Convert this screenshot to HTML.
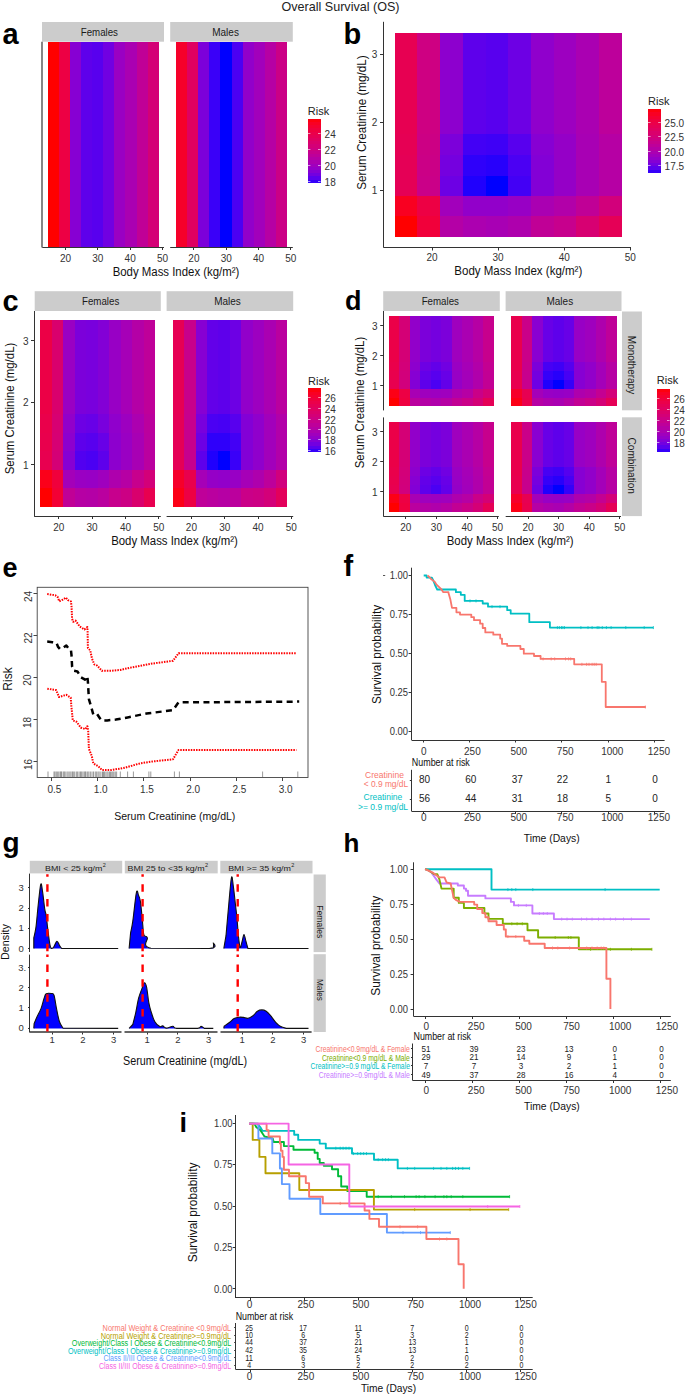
<!DOCTYPE html>
<html><head><meta charset="utf-8"><style>
html,body{margin:0;padding:0;background:#fff;}
svg{display:block;font-family:"Liberation Sans", sans-serif;}
</style></head><body>
<svg width="685" height="1396" viewBox="0 0 685 1396">
<rect width="685" height="1396" fill="#fff"/>
<text x="340.50" y="11.00" font-size="13" fill="#222" text-anchor="middle" textLength="118.00" lengthAdjust="spacingAndGlyphs">Overall Survival (OS)</text>
<text x="2.50" y="44.20" font-size="29" fill="#000" text-anchor="start" font-weight="bold">a</text>
<rect x="42.00" y="22.00" width="122.00" height="19.70" fill="#cccccc"/>
<text x="99.35" y="36.00" font-size="10" fill="#1a1a1a" text-anchor="middle" textLength="37.30" lengthAdjust="spacingAndGlyphs">Females</text>
<rect x="170.20" y="22.00" width="122.60" height="19.70" fill="#cccccc"/>
<text x="225.55" y="36.00" font-size="10" fill="#1a1a1a" text-anchor="middle">Males</text>
<rect x="47.60" y="41.70" width="11.120" height="204.90" fill="#ff0000" shape-rendering="crispEdges"/>
<rect x="58.72" y="41.70" width="11.120" height="204.90" fill="#ed0044" shape-rendering="crispEdges"/>
<rect x="69.84" y="41.70" width="11.120" height="204.90" fill="#8700d3" shape-rendering="crispEdges"/>
<rect x="80.96" y="41.70" width="11.120" height="204.90" fill="#5e00eb" shape-rendering="crispEdges"/>
<rect x="92.08" y="41.70" width="11.120" height="204.90" fill="#5800ee" shape-rendering="crispEdges"/>
<rect x="103.20" y="41.70" width="11.120" height="204.90" fill="#7100e2" shape-rendering="crispEdges"/>
<rect x="114.32" y="41.70" width="11.120" height="204.90" fill="#9a00c3" shape-rendering="crispEdges"/>
<rect x="125.44" y="41.70" width="11.120" height="204.90" fill="#aa00b2" shape-rendering="crispEdges"/>
<rect x="136.56" y="41.70" width="11.120" height="204.90" fill="#c00096" shape-rendering="crispEdges"/>
<rect x="147.68" y="41.70" width="11.120" height="204.90" fill="#d40076" shape-rendering="crispEdges"/>
<rect x="176.00" y="41.70" width="11.120" height="204.90" fill="#f6002a" shape-rendering="crispEdges"/>
<rect x="187.12" y="41.70" width="11.120" height="204.90" fill="#e00060" shape-rendering="crispEdges"/>
<rect x="198.24" y="41.70" width="11.120" height="204.90" fill="#7c00da" shape-rendering="crispEdges"/>
<rect x="209.36" y="41.70" width="11.120" height="204.90" fill="#3a00f8" shape-rendering="crispEdges"/>
<rect x="220.48" y="41.70" width="11.120" height="204.90" fill="#0000ff" shape-rendering="crispEdges"/>
<rect x="231.60" y="41.70" width="11.120" height="204.90" fill="#4b00f3" shape-rendering="crispEdges"/>
<rect x="242.72" y="41.70" width="11.120" height="204.90" fill="#9200ca" shape-rendering="crispEdges"/>
<rect x="253.84" y="41.70" width="11.120" height="204.90" fill="#a200bb" shape-rendering="crispEdges"/>
<rect x="264.96" y="41.70" width="11.120" height="204.90" fill="#b600a4" shape-rendering="crispEdges"/>
<rect x="276.08" y="41.70" width="11.120" height="204.90" fill="#cb0086" shape-rendering="crispEdges"/>
<line x1="42" y1="41.7" x2="42" y2="247.5" stroke="#222" stroke-width="1.1"/>
<line x1="42.30" y1="247.50" x2="164.00" y2="247.50" stroke="#333333" stroke-width="1.0"/>
<line x1="170.20" y1="247.50" x2="292.80" y2="247.50" stroke="#333333" stroke-width="1.0"/>
<line x1="65.50" y1="247.00" x2="65.50" y2="250.00" stroke="#333333" stroke-width="1.0"/>
<text x="65.50" y="261.70" font-size="10" fill="#333" text-anchor="middle">20</text>
<line x1="193.50" y1="247.00" x2="193.50" y2="250.00" stroke="#333333" stroke-width="1.0"/>
<text x="193.90" y="261.70" font-size="10" fill="#333" text-anchor="middle">20</text>
<line x1="97.50" y1="247.00" x2="97.50" y2="250.00" stroke="#333333" stroke-width="1.0"/>
<text x="97.83" y="261.70" font-size="10" fill="#333" text-anchor="middle">30</text>
<line x1="226.50" y1="247.00" x2="226.50" y2="250.00" stroke="#333333" stroke-width="1.0"/>
<text x="226.23" y="261.70" font-size="10" fill="#333" text-anchor="middle">30</text>
<line x1="130.50" y1="247.00" x2="130.50" y2="250.00" stroke="#333333" stroke-width="1.0"/>
<text x="130.16" y="261.70" font-size="10" fill="#333" text-anchor="middle">40</text>
<line x1="258.50" y1="247.00" x2="258.50" y2="250.00" stroke="#333333" stroke-width="1.0"/>
<text x="258.56" y="261.70" font-size="10" fill="#333" text-anchor="middle">40</text>
<line x1="162.50" y1="247.00" x2="162.50" y2="250.00" stroke="#333333" stroke-width="1.0"/>
<text x="162.49" y="261.70" font-size="10" fill="#333" text-anchor="middle">50</text>
<line x1="290.50" y1="247.00" x2="290.50" y2="250.00" stroke="#333333" stroke-width="1.0"/>
<text x="290.89" y="261.70" font-size="10" fill="#333" text-anchor="middle">50</text>
<text x="176.00" y="275.50" font-size="12" fill="#111" text-anchor="middle" textLength="126.70" lengthAdjust="spacingAndGlyphs">Body Mass Index (kg/m²)</text>
<text x="307.80" y="115.00" font-size="11" fill="#222" text-anchor="start">Risk</text>
<rect x="307.80" y="118.900" width="12.8" height="3.190" fill="#fd000f" shape-rendering="crispEdges"/>
<rect x="307.80" y="122.090" width="12.8" height="3.190" fill="#f90023" shape-rendering="crispEdges"/>
<rect x="307.80" y="125.280" width="12.8" height="3.190" fill="#f40031" shape-rendering="crispEdges"/>
<rect x="307.80" y="128.470" width="12.8" height="3.190" fill="#ef003e" shape-rendering="crispEdges"/>
<rect x="307.80" y="131.660" width="12.8" height="3.190" fill="#eb004a" shape-rendering="crispEdges"/>
<rect x="307.80" y="134.850" width="12.8" height="3.190" fill="#e50055" shape-rendering="crispEdges"/>
<rect x="307.80" y="138.040" width="12.8" height="3.190" fill="#e00061" shape-rendering="crispEdges"/>
<rect x="307.80" y="141.230" width="12.8" height="3.190" fill="#da006c" shape-rendering="crispEdges"/>
<rect x="307.80" y="144.420" width="12.8" height="3.190" fill="#d40077" shape-rendering="crispEdges"/>
<rect x="307.80" y="147.610" width="12.8" height="3.190" fill="#cd0083" shape-rendering="crispEdges"/>
<rect x="307.80" y="150.800" width="12.8" height="3.190" fill="#c6008e" shape-rendering="crispEdges"/>
<rect x="307.80" y="153.990" width="12.8" height="3.190" fill="#be009a" shape-rendering="crispEdges"/>
<rect x="307.80" y="157.180" width="12.8" height="3.190" fill="#b500a5" shape-rendering="crispEdges"/>
<rect x="307.80" y="160.370" width="12.8" height="3.190" fill="#ab00b1" shape-rendering="crispEdges"/>
<rect x="307.80" y="163.560" width="12.8" height="3.190" fill="#a000bd" shape-rendering="crispEdges"/>
<rect x="307.80" y="166.750" width="12.8" height="3.190" fill="#9400c8" shape-rendering="crispEdges"/>
<rect x="307.80" y="169.940" width="12.8" height="3.190" fill="#8500d4" shape-rendering="crispEdges"/>
<rect x="307.80" y="173.130" width="12.8" height="3.190" fill="#7300e0" shape-rendering="crispEdges"/>
<rect x="307.80" y="176.320" width="12.8" height="3.190" fill="#5b00ed" shape-rendering="crispEdges"/>
<rect x="307.80" y="179.510" width="12.8" height="3.190" fill="#3500f9" shape-rendering="crispEdges"/>
<line x1="307.80" y1="133.50" x2="310.40" y2="133.50" stroke="rgba(255,255,255,0.6)" stroke-width="1.0"/>
<line x1="318.00" y1="133.50" x2="320.60" y2="133.50" stroke="rgba(255,255,255,0.6)" stroke-width="1.0"/>
<text x="324.60" y="138.30" font-size="10" fill="#333" text-anchor="start">24</text>
<line x1="307.80" y1="149.50" x2="310.40" y2="149.50" stroke="rgba(255,255,255,0.6)" stroke-width="1.0"/>
<line x1="318.00" y1="149.50" x2="320.60" y2="149.50" stroke="rgba(255,255,255,0.6)" stroke-width="1.0"/>
<text x="324.60" y="154.40" font-size="10" fill="#333" text-anchor="start">22</text>
<line x1="307.80" y1="165.50" x2="310.40" y2="165.50" stroke="rgba(255,255,255,0.6)" stroke-width="1.0"/>
<line x1="318.00" y1="165.50" x2="320.60" y2="165.50" stroke="rgba(255,255,255,0.6)" stroke-width="1.0"/>
<text x="324.60" y="170.10" font-size="10" fill="#333" text-anchor="start">20</text>
<line x1="307.80" y1="181.50" x2="310.40" y2="181.50" stroke="rgba(255,255,255,0.6)" stroke-width="1.0"/>
<line x1="318.00" y1="181.50" x2="320.60" y2="181.50" stroke="rgba(255,255,255,0.6)" stroke-width="1.0"/>
<text x="324.60" y="186.20" font-size="10" fill="#333" text-anchor="start">18</text>
<text x="343.50" y="43.70" font-size="29" fill="#000" text-anchor="start" font-weight="bold">b</text>
<rect x="394.70" y="32.50" width="22.700" height="101.70" fill="#e70052" shape-rendering="crispEdges"/>
<rect x="417.40" y="32.50" width="22.700" height="101.70" fill="#ce0082" shape-rendering="crispEdges"/>
<rect x="440.10" y="32.50" width="22.700" height="101.70" fill="#8d00ce" shape-rendering="crispEdges"/>
<rect x="462.80" y="32.50" width="22.700" height="101.70" fill="#5e00eb" shape-rendering="crispEdges"/>
<rect x="485.50" y="32.50" width="22.700" height="101.70" fill="#5800ee" shape-rendering="crispEdges"/>
<rect x="508.20" y="32.50" width="22.700" height="101.70" fill="#6d00e4" shape-rendering="crispEdges"/>
<rect x="530.90" y="32.50" width="22.700" height="101.70" fill="#9000cc" shape-rendering="crispEdges"/>
<rect x="553.60" y="32.50" width="22.700" height="101.70" fill="#9d00c0" shape-rendering="crispEdges"/>
<rect x="576.30" y="32.50" width="22.700" height="101.70" fill="#aa00b2" shape-rendering="crispEdges"/>
<rect x="599.00" y="32.50" width="22.700" height="101.70" fill="#bd009b" shape-rendering="crispEdges"/>
<rect x="394.70" y="134.20" width="22.700" height="20.80" fill="#e60054" shape-rendering="crispEdges"/>
<rect x="417.40" y="134.20" width="22.700" height="20.80" fill="#cc0084" shape-rendering="crispEdges"/>
<rect x="440.10" y="134.20" width="22.700" height="20.80" fill="#7c00da" shape-rendering="crispEdges"/>
<rect x="462.80" y="134.20" width="22.700" height="20.80" fill="#4300f5" shape-rendering="crispEdges"/>
<rect x="485.50" y="134.20" width="22.700" height="20.80" fill="#3f00f6" shape-rendering="crispEdges"/>
<rect x="508.20" y="134.20" width="22.700" height="20.80" fill="#5800ee" shape-rendering="crispEdges"/>
<rect x="530.90" y="134.20" width="22.700" height="20.80" fill="#8700d3" shape-rendering="crispEdges"/>
<rect x="553.60" y="134.20" width="22.700" height="20.80" fill="#9500c7" shape-rendering="crispEdges"/>
<rect x="576.30" y="134.20" width="22.700" height="20.80" fill="#a800b4" shape-rendering="crispEdges"/>
<rect x="599.00" y="134.20" width="22.700" height="20.80" fill="#b600a4" shape-rendering="crispEdges"/>
<rect x="394.70" y="155.00" width="22.700" height="20.80" fill="#e50056" shape-rendering="crispEdges"/>
<rect x="417.40" y="155.00" width="22.700" height="20.80" fill="#cb0086" shape-rendering="crispEdges"/>
<rect x="440.10" y="155.00" width="22.700" height="20.80" fill="#7500df" shape-rendering="crispEdges"/>
<rect x="462.80" y="155.00" width="22.700" height="20.80" fill="#2f00fa" shape-rendering="crispEdges"/>
<rect x="485.50" y="155.00" width="22.700" height="20.80" fill="#2800fb" shape-rendering="crispEdges"/>
<rect x="508.20" y="155.00" width="22.700" height="20.80" fill="#4b00f3" shape-rendering="crispEdges"/>
<rect x="530.90" y="155.00" width="22.700" height="20.80" fill="#8300d6" shape-rendering="crispEdges"/>
<rect x="553.60" y="155.00" width="22.700" height="20.80" fill="#9500c7" shape-rendering="crispEdges"/>
<rect x="576.30" y="155.00" width="22.700" height="20.80" fill="#a800b4" shape-rendering="crispEdges"/>
<rect x="599.00" y="155.00" width="22.700" height="20.80" fill="#b600a4" shape-rendering="crispEdges"/>
<rect x="394.70" y="175.80" width="22.700" height="20.40" fill="#e50056" shape-rendering="crispEdges"/>
<rect x="417.40" y="175.80" width="22.700" height="20.40" fill="#ca0088" shape-rendering="crispEdges"/>
<rect x="440.10" y="175.80" width="22.700" height="20.40" fill="#6d00e4" shape-rendering="crispEdges"/>
<rect x="462.80" y="175.80" width="22.700" height="20.40" fill="#2000fd" shape-rendering="crispEdges"/>
<rect x="485.50" y="175.80" width="22.700" height="20.40" fill="#0000ff" shape-rendering="crispEdges"/>
<rect x="508.20" y="175.80" width="22.700" height="20.40" fill="#4300f5" shape-rendering="crispEdges"/>
<rect x="530.90" y="175.80" width="22.700" height="20.40" fill="#8300d6" shape-rendering="crispEdges"/>
<rect x="553.60" y="175.80" width="22.700" height="20.40" fill="#9500c7" shape-rendering="crispEdges"/>
<rect x="576.30" y="175.80" width="22.700" height="20.40" fill="#a800b4" shape-rendering="crispEdges"/>
<rect x="599.00" y="175.80" width="22.700" height="20.40" fill="#b600a4" shape-rendering="crispEdges"/>
<rect x="394.70" y="196.20" width="22.700" height="20.10" fill="#f90021" shape-rendering="crispEdges"/>
<rect x="417.40" y="196.20" width="22.700" height="20.10" fill="#ed0044" shape-rendering="crispEdges"/>
<rect x="440.10" y="196.20" width="22.700" height="20.10" fill="#a200bb" shape-rendering="crispEdges"/>
<rect x="462.80" y="196.20" width="22.700" height="20.10" fill="#9200ca" shape-rendering="crispEdges"/>
<rect x="485.50" y="196.20" width="22.700" height="20.10" fill="#9200ca" shape-rendering="crispEdges"/>
<rect x="508.20" y="196.20" width="22.700" height="20.10" fill="#9800c5" shape-rendering="crispEdges"/>
<rect x="530.90" y="196.20" width="22.700" height="20.10" fill="#aa00b2" shape-rendering="crispEdges"/>
<rect x="553.60" y="196.20" width="22.700" height="20.10" fill="#b200a9" shape-rendering="crispEdges"/>
<rect x="576.30" y="196.20" width="22.700" height="20.10" fill="#c00096" shape-rendering="crispEdges"/>
<rect x="599.00" y="196.20" width="22.700" height="20.10" fill="#d2007b" shape-rendering="crispEdges"/>
<rect x="394.70" y="216.30" width="22.700" height="20.80" fill="#ff0000" shape-rendering="crispEdges"/>
<rect x="417.40" y="216.30" width="22.700" height="20.80" fill="#f1003a" shape-rendering="crispEdges"/>
<rect x="440.10" y="216.30" width="22.700" height="20.80" fill="#b400a6" shape-rendering="crispEdges"/>
<rect x="462.80" y="216.30" width="22.700" height="20.80" fill="#ac00b0" shape-rendering="crispEdges"/>
<rect x="485.50" y="216.30" width="22.700" height="20.80" fill="#a800b4" shape-rendering="crispEdges"/>
<rect x="508.20" y="216.30" width="22.700" height="20.80" fill="#ae00ad" shape-rendering="crispEdges"/>
<rect x="530.90" y="216.30" width="22.700" height="20.80" fill="#c00096" shape-rendering="crispEdges"/>
<rect x="553.60" y="216.30" width="22.700" height="20.80" fill="#c7008d" shape-rendering="crispEdges"/>
<rect x="576.30" y="216.30" width="22.700" height="20.80" fill="#d70072" shape-rendering="crispEdges"/>
<rect x="599.00" y="216.30" width="22.700" height="20.80" fill="#e50056" shape-rendering="crispEdges"/>
<line x1="383.50" y1="21.80" x2="383.50" y2="247.50" stroke="#333333" stroke-width="1.0"/>
<line x1="383.40" y1="247.50" x2="630.50" y2="247.50" stroke="#333333" stroke-width="1.0"/>
<line x1="380.00" y1="54.50" x2="383.40" y2="54.50" stroke="#333333" stroke-width="1.0"/>
<text x="377.20" y="58.40" font-size="10" fill="#333" text-anchor="end">3</text>
<line x1="380.00" y1="122.50" x2="383.40" y2="122.50" stroke="#333333" stroke-width="1.0"/>
<text x="377.20" y="126.30" font-size="10" fill="#333" text-anchor="end">2</text>
<line x1="380.00" y1="190.50" x2="383.40" y2="190.50" stroke="#333333" stroke-width="1.0"/>
<text x="377.20" y="194.20" font-size="10" fill="#333" text-anchor="end">1</text>
<line x1="432.50" y1="247.00" x2="432.50" y2="250.50" stroke="#333333" stroke-width="1.0"/>
<text x="432.00" y="260.70" font-size="10" fill="#333" text-anchor="middle">20</text>
<line x1="498.50" y1="247.00" x2="498.50" y2="250.50" stroke="#333333" stroke-width="1.0"/>
<text x="498.10" y="260.70" font-size="10" fill="#333" text-anchor="middle">30</text>
<line x1="564.50" y1="247.00" x2="564.50" y2="250.50" stroke="#333333" stroke-width="1.0"/>
<text x="564.20" y="260.70" font-size="10" fill="#333" text-anchor="middle">40</text>
<line x1="630.50" y1="247.00" x2="630.50" y2="250.50" stroke="#333333" stroke-width="1.0"/>
<text x="630.30" y="260.70" font-size="10" fill="#333" text-anchor="middle">50</text>
<text x="365.80" y="122.50" font-size="12" fill="#111" text-anchor="middle" textLength="134.50" lengthAdjust="spacingAndGlyphs" transform="rotate(-90 365.80 122.50)">Serum Creatinine (mg/dL)</text>
<text x="518.30" y="275.00" font-size="12" fill="#111" text-anchor="middle" textLength="128.00" lengthAdjust="spacingAndGlyphs">Body Mass Index (kg/m²)</text>
<text x="648.00" y="105.40" font-size="11" fill="#222" text-anchor="start">Risk</text>
<rect x="648.00" y="109.200" width="12.8" height="3.180" fill="#fd000f" shape-rendering="crispEdges"/>
<rect x="648.00" y="112.380" width="12.8" height="3.180" fill="#f90023" shape-rendering="crispEdges"/>
<rect x="648.00" y="115.560" width="12.8" height="3.180" fill="#f40031" shape-rendering="crispEdges"/>
<rect x="648.00" y="118.740" width="12.8" height="3.180" fill="#ef003e" shape-rendering="crispEdges"/>
<rect x="648.00" y="121.920" width="12.8" height="3.180" fill="#eb004a" shape-rendering="crispEdges"/>
<rect x="648.00" y="125.100" width="12.8" height="3.180" fill="#e50055" shape-rendering="crispEdges"/>
<rect x="648.00" y="128.280" width="12.8" height="3.180" fill="#e00061" shape-rendering="crispEdges"/>
<rect x="648.00" y="131.460" width="12.8" height="3.180" fill="#da006c" shape-rendering="crispEdges"/>
<rect x="648.00" y="134.640" width="12.8" height="3.180" fill="#d40077" shape-rendering="crispEdges"/>
<rect x="648.00" y="137.820" width="12.8" height="3.180" fill="#cd0083" shape-rendering="crispEdges"/>
<rect x="648.00" y="141.000" width="12.8" height="3.180" fill="#c6008e" shape-rendering="crispEdges"/>
<rect x="648.00" y="144.180" width="12.8" height="3.180" fill="#be009a" shape-rendering="crispEdges"/>
<rect x="648.00" y="147.360" width="12.8" height="3.180" fill="#b500a5" shape-rendering="crispEdges"/>
<rect x="648.00" y="150.540" width="12.8" height="3.180" fill="#ab00b1" shape-rendering="crispEdges"/>
<rect x="648.00" y="153.720" width="12.8" height="3.180" fill="#a000bd" shape-rendering="crispEdges"/>
<rect x="648.00" y="156.900" width="12.8" height="3.180" fill="#9400c8" shape-rendering="crispEdges"/>
<rect x="648.00" y="160.080" width="12.8" height="3.180" fill="#8500d4" shape-rendering="crispEdges"/>
<rect x="648.00" y="163.260" width="12.8" height="3.180" fill="#7300e0" shape-rendering="crispEdges"/>
<rect x="648.00" y="166.440" width="12.8" height="3.180" fill="#5b00ed" shape-rendering="crispEdges"/>
<rect x="648.00" y="169.620" width="12.8" height="3.180" fill="#3500f9" shape-rendering="crispEdges"/>
<line x1="648.00" y1="122.50" x2="650.60" y2="122.50" stroke="rgba(255,255,255,0.6)" stroke-width="1.0"/>
<line x1="658.20" y1="122.50" x2="660.80" y2="122.50" stroke="rgba(255,255,255,0.6)" stroke-width="1.0"/>
<text x="664.60" y="127.00" font-size="10" fill="#333" text-anchor="start">25.0</text>
<line x1="648.00" y1="136.50" x2="650.60" y2="136.50" stroke="rgba(255,255,255,0.6)" stroke-width="1.0"/>
<line x1="658.20" y1="136.50" x2="660.80" y2="136.50" stroke="rgba(255,255,255,0.6)" stroke-width="1.0"/>
<text x="664.60" y="141.10" font-size="10" fill="#333" text-anchor="start">22.5</text>
<line x1="648.00" y1="151.50" x2="650.60" y2="151.50" stroke="rgba(255,255,255,0.6)" stroke-width="1.0"/>
<line x1="658.20" y1="151.50" x2="660.80" y2="151.50" stroke="rgba(255,255,255,0.6)" stroke-width="1.0"/>
<text x="664.60" y="155.70" font-size="10" fill="#333" text-anchor="start">20.0</text>
<line x1="648.00" y1="165.50" x2="650.60" y2="165.50" stroke="rgba(255,255,255,0.6)" stroke-width="1.0"/>
<line x1="658.20" y1="165.50" x2="660.80" y2="165.50" stroke="rgba(255,255,255,0.6)" stroke-width="1.0"/>
<text x="664.60" y="169.90" font-size="10" fill="#333" text-anchor="start">17.5</text>
<text x="2.50" y="310.80" font-size="29" fill="#000" text-anchor="start" font-weight="bold">c</text>
<rect x="34.70" y="291.20" width="126.10" height="19.80" fill="#cccccc"/>
<text x="100.65" y="305.30" font-size="10" fill="#1a1a1a" text-anchor="middle" textLength="37.30" lengthAdjust="spacingAndGlyphs">Females</text>
<rect x="166.60" y="291.20" width="126.60" height="19.80" fill="#cccccc"/>
<text x="227.50" y="305.30" font-size="10" fill="#1a1a1a" text-anchor="middle">Males</text>
<rect x="40.20" y="320.20" width="11.480" height="93.80" fill="#ec0046" shape-rendering="crispEdges"/>
<rect x="51.68" y="320.20" width="11.480" height="93.80" fill="#d9006d" shape-rendering="crispEdges"/>
<rect x="63.16" y="320.20" width="11.480" height="93.80" fill="#9a00c3" shape-rendering="crispEdges"/>
<rect x="74.64" y="320.20" width="11.480" height="93.80" fill="#7c00da" shape-rendering="crispEdges"/>
<rect x="86.12" y="320.20" width="11.480" height="93.80" fill="#7900dd" shape-rendering="crispEdges"/>
<rect x="97.60" y="320.20" width="11.480" height="93.80" fill="#8300d6" shape-rendering="crispEdges"/>
<rect x="109.08" y="320.20" width="11.480" height="93.80" fill="#9800c5" shape-rendering="crispEdges"/>
<rect x="120.56" y="320.20" width="11.480" height="93.80" fill="#a600b7" shape-rendering="crispEdges"/>
<rect x="132.04" y="320.20" width="11.480" height="93.80" fill="#b400a6" shape-rendering="crispEdges"/>
<rect x="143.52" y="320.20" width="11.480" height="93.80" fill="#bf0099" shape-rendering="crispEdges"/>
<rect x="40.20" y="414.00" width="11.480" height="18.60" fill="#ea004b" shape-rendering="crispEdges"/>
<rect x="51.68" y="414.00" width="11.480" height="18.60" fill="#d70072" shape-rendering="crispEdges"/>
<rect x="63.16" y="414.00" width="11.480" height="18.60" fill="#9200ca" shape-rendering="crispEdges"/>
<rect x="74.64" y="414.00" width="11.480" height="18.60" fill="#6d00e4" shape-rendering="crispEdges"/>
<rect x="86.12" y="414.00" width="11.480" height="18.60" fill="#6800e7" shape-rendering="crispEdges"/>
<rect x="97.60" y="414.00" width="11.480" height="18.60" fill="#7900dd" shape-rendering="crispEdges"/>
<rect x="109.08" y="414.00" width="11.480" height="18.60" fill="#9000cc" shape-rendering="crispEdges"/>
<rect x="120.56" y="414.00" width="11.480" height="18.60" fill="#9d00c0" shape-rendering="crispEdges"/>
<rect x="132.04" y="414.00" width="11.480" height="18.60" fill="#ac00b0" shape-rendering="crispEdges"/>
<rect x="143.52" y="414.00" width="11.480" height="18.60" fill="#bb009d" shape-rendering="crispEdges"/>
<rect x="40.20" y="432.60" width="11.480" height="18.60" fill="#e9004d" shape-rendering="crispEdges"/>
<rect x="51.68" y="432.60" width="11.480" height="18.60" fill="#d60074" shape-rendering="crispEdges"/>
<rect x="63.16" y="432.60" width="11.480" height="18.60" fill="#8d00ce" shape-rendering="crispEdges"/>
<rect x="74.64" y="432.60" width="11.480" height="18.60" fill="#5e00eb" shape-rendering="crispEdges"/>
<rect x="86.12" y="432.60" width="11.480" height="18.60" fill="#5800ee" shape-rendering="crispEdges"/>
<rect x="97.60" y="432.60" width="11.480" height="18.60" fill="#6800e7" shape-rendering="crispEdges"/>
<rect x="109.08" y="432.60" width="11.480" height="18.60" fill="#8d00ce" shape-rendering="crispEdges"/>
<rect x="120.56" y="432.60" width="11.480" height="18.60" fill="#9a00c3" shape-rendering="crispEdges"/>
<rect x="132.04" y="432.60" width="11.480" height="18.60" fill="#a800b4" shape-rendering="crispEdges"/>
<rect x="143.52" y="432.60" width="11.480" height="18.60" fill="#ba009f" shape-rendering="crispEdges"/>
<rect x="40.20" y="451.20" width="11.480" height="18.60" fill="#e80050" shape-rendering="crispEdges"/>
<rect x="51.68" y="451.20" width="11.480" height="18.60" fill="#d40076" shape-rendering="crispEdges"/>
<rect x="63.16" y="451.20" width="11.480" height="18.60" fill="#8700d3" shape-rendering="crispEdges"/>
<rect x="74.64" y="451.20" width="11.480" height="18.60" fill="#5200f0" shape-rendering="crispEdges"/>
<rect x="86.12" y="451.20" width="11.480" height="18.60" fill="#4b00f3" shape-rendering="crispEdges"/>
<rect x="97.60" y="451.20" width="11.480" height="18.60" fill="#5e00eb" shape-rendering="crispEdges"/>
<rect x="109.08" y="451.20" width="11.480" height="18.60" fill="#8d00ce" shape-rendering="crispEdges"/>
<rect x="120.56" y="451.20" width="11.480" height="18.60" fill="#9a00c3" shape-rendering="crispEdges"/>
<rect x="132.04" y="451.20" width="11.480" height="18.60" fill="#a800b4" shape-rendering="crispEdges"/>
<rect x="143.52" y="451.20" width="11.480" height="18.60" fill="#ba009f" shape-rendering="crispEdges"/>
<rect x="40.20" y="469.80" width="11.480" height="18.60" fill="#fb001a" shape-rendering="crispEdges"/>
<rect x="51.68" y="469.80" width="11.480" height="18.60" fill="#f0003c" shape-rendering="crispEdges"/>
<rect x="63.16" y="469.80" width="11.480" height="18.60" fill="#a400b9" shape-rendering="crispEdges"/>
<rect x="74.64" y="469.80" width="11.480" height="18.60" fill="#9a00c3" shape-rendering="crispEdges"/>
<rect x="86.12" y="469.80" width="11.480" height="18.60" fill="#9800c5" shape-rendering="crispEdges"/>
<rect x="97.60" y="469.80" width="11.480" height="18.60" fill="#9f00be" shape-rendering="crispEdges"/>
<rect x="109.08" y="469.80" width="11.480" height="18.60" fill="#ae00ad" shape-rendering="crispEdges"/>
<rect x="120.56" y="469.80" width="11.480" height="18.60" fill="#b600a4" shape-rendering="crispEdges"/>
<rect x="132.04" y="469.80" width="11.480" height="18.60" fill="#c7008d" shape-rendering="crispEdges"/>
<rect x="143.52" y="469.80" width="11.480" height="18.60" fill="#d30079" shape-rendering="crispEdges"/>
<rect x="40.20" y="488.40" width="11.480" height="18.40" fill="#ff0000" shape-rendering="crispEdges"/>
<rect x="51.68" y="488.40" width="11.480" height="18.40" fill="#f30035" shape-rendering="crispEdges"/>
<rect x="63.16" y="488.40" width="11.480" height="18.40" fill="#c00096" shape-rendering="crispEdges"/>
<rect x="74.64" y="488.40" width="11.480" height="18.40" fill="#b600a4" shape-rendering="crispEdges"/>
<rect x="86.12" y="488.40" width="11.480" height="18.40" fill="#b400a6" shape-rendering="crispEdges"/>
<rect x="97.60" y="488.40" width="11.480" height="18.40" fill="#ba009f" shape-rendering="crispEdges"/>
<rect x="109.08" y="488.40" width="11.480" height="18.40" fill="#c7008d" shape-rendering="crispEdges"/>
<rect x="120.56" y="488.40" width="11.480" height="18.40" fill="#cc0084" shape-rendering="crispEdges"/>
<rect x="132.04" y="488.40" width="11.480" height="18.40" fill="#d9006d" shape-rendering="crispEdges"/>
<rect x="143.52" y="488.40" width="11.480" height="18.40" fill="#e80050" shape-rendering="crispEdges"/>
<rect x="172.80" y="320.20" width="11.420" height="93.80" fill="#e60054" shape-rendering="crispEdges"/>
<rect x="184.22" y="320.20" width="11.420" height="93.80" fill="#c8008b" shape-rendering="crispEdges"/>
<rect x="195.64" y="320.20" width="11.420" height="93.80" fill="#8700d3" shape-rendering="crispEdges"/>
<rect x="207.06" y="320.20" width="11.420" height="93.80" fill="#6300e9" shape-rendering="crispEdges"/>
<rect x="218.48" y="320.20" width="11.420" height="93.80" fill="#5e00eb" shape-rendering="crispEdges"/>
<rect x="229.90" y="320.20" width="11.420" height="93.80" fill="#6d00e4" shape-rendering="crispEdges"/>
<rect x="241.32" y="320.20" width="11.420" height="93.80" fill="#9200ca" shape-rendering="crispEdges"/>
<rect x="252.74" y="320.20" width="11.420" height="93.80" fill="#9d00c0" shape-rendering="crispEdges"/>
<rect x="264.16" y="320.20" width="11.420" height="93.80" fill="#aa00b2" shape-rendering="crispEdges"/>
<rect x="275.58" y="320.20" width="11.420" height="93.80" fill="#ba009f" shape-rendering="crispEdges"/>
<rect x="172.80" y="414.00" width="11.420" height="18.60" fill="#e50056" shape-rendering="crispEdges"/>
<rect x="184.22" y="414.00" width="11.420" height="18.60" fill="#c7008d" shape-rendering="crispEdges"/>
<rect x="195.64" y="414.00" width="11.420" height="18.60" fill="#7900dd" shape-rendering="crispEdges"/>
<rect x="207.06" y="414.00" width="11.420" height="18.60" fill="#4b00f3" shape-rendering="crispEdges"/>
<rect x="218.48" y="414.00" width="11.420" height="18.60" fill="#4700f4" shape-rendering="crispEdges"/>
<rect x="229.90" y="414.00" width="11.420" height="18.60" fill="#5800ee" shape-rendering="crispEdges"/>
<rect x="241.32" y="414.00" width="11.420" height="18.60" fill="#8300d6" shape-rendering="crispEdges"/>
<rect x="252.74" y="414.00" width="11.420" height="18.60" fill="#9000cc" shape-rendering="crispEdges"/>
<rect x="264.16" y="414.00" width="11.420" height="18.60" fill="#a200bb" shape-rendering="crispEdges"/>
<rect x="275.58" y="414.00" width="11.420" height="18.60" fill="#b200a9" shape-rendering="crispEdges"/>
<rect x="172.80" y="432.60" width="11.420" height="18.60" fill="#e50056" shape-rendering="crispEdges"/>
<rect x="184.22" y="432.60" width="11.420" height="18.60" fill="#c7008d" shape-rendering="crispEdges"/>
<rect x="195.64" y="432.60" width="11.420" height="18.60" fill="#6d00e4" shape-rendering="crispEdges"/>
<rect x="207.06" y="432.60" width="11.420" height="18.60" fill="#2f00fa" shape-rendering="crispEdges"/>
<rect x="218.48" y="432.60" width="11.420" height="18.60" fill="#2f00fa" shape-rendering="crispEdges"/>
<rect x="229.90" y="432.60" width="11.420" height="18.60" fill="#4300f5" shape-rendering="crispEdges"/>
<rect x="241.32" y="432.60" width="11.420" height="18.60" fill="#8300d6" shape-rendering="crispEdges"/>
<rect x="252.74" y="432.60" width="11.420" height="18.60" fill="#9000cc" shape-rendering="crispEdges"/>
<rect x="264.16" y="432.60" width="11.420" height="18.60" fill="#a200bb" shape-rendering="crispEdges"/>
<rect x="275.58" y="432.60" width="11.420" height="18.60" fill="#b200a9" shape-rendering="crispEdges"/>
<rect x="172.80" y="451.20" width="11.420" height="18.60" fill="#e50056" shape-rendering="crispEdges"/>
<rect x="184.22" y="451.20" width="11.420" height="18.60" fill="#c7008d" shape-rendering="crispEdges"/>
<rect x="195.64" y="451.20" width="11.420" height="18.60" fill="#5e00eb" shape-rendering="crispEdges"/>
<rect x="207.06" y="451.20" width="11.420" height="18.60" fill="#2000fd" shape-rendering="crispEdges"/>
<rect x="218.48" y="451.20" width="11.420" height="18.60" fill="#0000ff" shape-rendering="crispEdges"/>
<rect x="229.90" y="451.20" width="11.420" height="18.60" fill="#3a00f8" shape-rendering="crispEdges"/>
<rect x="241.32" y="451.20" width="11.420" height="18.60" fill="#8300d6" shape-rendering="crispEdges"/>
<rect x="252.74" y="451.20" width="11.420" height="18.60" fill="#9000cc" shape-rendering="crispEdges"/>
<rect x="264.16" y="451.20" width="11.420" height="18.60" fill="#a200bb" shape-rendering="crispEdges"/>
<rect x="275.58" y="451.20" width="11.420" height="18.60" fill="#b200a9" shape-rendering="crispEdges"/>
<rect x="172.80" y="469.80" width="11.420" height="18.60" fill="#f6002a" shape-rendering="crispEdges"/>
<rect x="184.22" y="469.80" width="11.420" height="18.60" fill="#e9004d" shape-rendering="crispEdges"/>
<rect x="195.64" y="469.80" width="11.420" height="18.60" fill="#a600b7" shape-rendering="crispEdges"/>
<rect x="207.06" y="469.80" width="11.420" height="18.60" fill="#9500c7" shape-rendering="crispEdges"/>
<rect x="218.48" y="469.80" width="11.420" height="18.60" fill="#9200ca" shape-rendering="crispEdges"/>
<rect x="229.90" y="469.80" width="11.420" height="18.60" fill="#9800c5" shape-rendering="crispEdges"/>
<rect x="241.32" y="469.80" width="11.420" height="18.60" fill="#a600b7" shape-rendering="crispEdges"/>
<rect x="252.74" y="469.80" width="11.420" height="18.60" fill="#ae00ad" shape-rendering="crispEdges"/>
<rect x="264.16" y="469.80" width="11.420" height="18.60" fill="#bd009b" shape-rendering="crispEdges"/>
<rect x="275.58" y="469.80" width="11.420" height="18.60" fill="#d1007d" shape-rendering="crispEdges"/>
<rect x="172.80" y="488.40" width="11.420" height="18.40" fill="#fc0016" shape-rendering="crispEdges"/>
<rect x="184.22" y="488.40" width="11.420" height="18.40" fill="#ed0044" shape-rendering="crispEdges"/>
<rect x="195.64" y="488.40" width="11.420" height="18.40" fill="#bf0099" shape-rendering="crispEdges"/>
<rect x="207.06" y="488.40" width="11.420" height="18.40" fill="#ba009f" shape-rendering="crispEdges"/>
<rect x="218.48" y="488.40" width="11.420" height="18.40" fill="#b600a4" shape-rendering="crispEdges"/>
<rect x="229.90" y="488.40" width="11.420" height="18.40" fill="#bb009d" shape-rendering="crispEdges"/>
<rect x="241.32" y="488.40" width="11.420" height="18.40" fill="#ca0088" shape-rendering="crispEdges"/>
<rect x="252.74" y="488.40" width="11.420" height="18.40" fill="#cc0084" shape-rendering="crispEdges"/>
<rect x="264.16" y="488.40" width="11.420" height="18.40" fill="#d30079" shape-rendering="crispEdges"/>
<rect x="275.58" y="488.40" width="11.420" height="18.40" fill="#e3005b" shape-rendering="crispEdges"/>
<line x1="34.50" y1="311.00" x2="34.50" y2="516.50" stroke="#333333" stroke-width="1.0"/>
<line x1="34.20" y1="516.50" x2="160.80" y2="516.50" stroke="#333333" stroke-width="1.0"/>
<line x1="166.60" y1="516.50" x2="293.20" y2="516.50" stroke="#333333" stroke-width="1.0"/>
<line x1="31.00" y1="340.50" x2="34.20" y2="340.50" stroke="#333333" stroke-width="1.0"/>
<text x="28.50" y="344.50" font-size="10" fill="#333" text-anchor="end">3</text>
<line x1="31.00" y1="402.50" x2="34.20" y2="402.50" stroke="#333333" stroke-width="1.0"/>
<text x="28.50" y="406.20" font-size="10" fill="#333" text-anchor="end">2</text>
<line x1="31.00" y1="464.50" x2="34.20" y2="464.50" stroke="#333333" stroke-width="1.0"/>
<text x="28.50" y="468.90" font-size="10" fill="#333" text-anchor="end">1</text>
<line x1="58.50" y1="516.00" x2="58.50" y2="519.00" stroke="#333333" stroke-width="1.0"/>
<text x="58.80" y="530.70" font-size="10" fill="#333" text-anchor="middle">20</text>
<line x1="191.50" y1="516.00" x2="191.50" y2="519.00" stroke="#333333" stroke-width="1.0"/>
<text x="191.40" y="530.70" font-size="10" fill="#333" text-anchor="middle">20</text>
<line x1="92.50" y1="516.00" x2="92.50" y2="519.00" stroke="#333333" stroke-width="1.0"/>
<text x="92.13" y="530.70" font-size="10" fill="#333" text-anchor="middle">30</text>
<line x1="224.50" y1="516.00" x2="224.50" y2="519.00" stroke="#333333" stroke-width="1.0"/>
<text x="224.73" y="530.70" font-size="10" fill="#333" text-anchor="middle">30</text>
<line x1="125.50" y1="516.00" x2="125.50" y2="519.00" stroke="#333333" stroke-width="1.0"/>
<text x="125.46" y="530.70" font-size="10" fill="#333" text-anchor="middle">40</text>
<line x1="258.50" y1="516.00" x2="258.50" y2="519.00" stroke="#333333" stroke-width="1.0"/>
<text x="258.06" y="530.70" font-size="10" fill="#333" text-anchor="middle">40</text>
<line x1="158.50" y1="516.00" x2="158.50" y2="519.00" stroke="#333333" stroke-width="1.0"/>
<text x="158.79" y="530.70" font-size="10" fill="#333" text-anchor="middle">50</text>
<line x1="291.50" y1="516.00" x2="291.50" y2="519.00" stroke="#333333" stroke-width="1.0"/>
<text x="291.39" y="530.70" font-size="10" fill="#333" text-anchor="middle">50</text>
<text x="14.30" y="408.50" font-size="12" fill="#111" text-anchor="middle" textLength="131.70" lengthAdjust="spacingAndGlyphs" transform="rotate(-90 14.30 408.50)">Serum Creatinine (mg/dL)</text>
<text x="174.50" y="544.50" font-size="12" fill="#111" text-anchor="middle" textLength="126.70" lengthAdjust="spacingAndGlyphs">Body Mass Index (kg/m²)</text>
<text x="308.00" y="384.80" font-size="11" fill="#222" text-anchor="start">Risk</text>
<rect x="308.00" y="388.400" width="12.8" height="3.175" fill="#fd000f" shape-rendering="crispEdges"/>
<rect x="308.00" y="391.575" width="12.8" height="3.175" fill="#f90023" shape-rendering="crispEdges"/>
<rect x="308.00" y="394.750" width="12.8" height="3.175" fill="#f40031" shape-rendering="crispEdges"/>
<rect x="308.00" y="397.925" width="12.8" height="3.175" fill="#ef003e" shape-rendering="crispEdges"/>
<rect x="308.00" y="401.100" width="12.8" height="3.175" fill="#eb004a" shape-rendering="crispEdges"/>
<rect x="308.00" y="404.275" width="12.8" height="3.175" fill="#e50055" shape-rendering="crispEdges"/>
<rect x="308.00" y="407.450" width="12.8" height="3.175" fill="#e00061" shape-rendering="crispEdges"/>
<rect x="308.00" y="410.625" width="12.8" height="3.175" fill="#da006c" shape-rendering="crispEdges"/>
<rect x="308.00" y="413.800" width="12.8" height="3.175" fill="#d40077" shape-rendering="crispEdges"/>
<rect x="308.00" y="416.975" width="12.8" height="3.175" fill="#cd0083" shape-rendering="crispEdges"/>
<rect x="308.00" y="420.150" width="12.8" height="3.175" fill="#c6008e" shape-rendering="crispEdges"/>
<rect x="308.00" y="423.325" width="12.8" height="3.175" fill="#be009a" shape-rendering="crispEdges"/>
<rect x="308.00" y="426.500" width="12.8" height="3.175" fill="#b500a5" shape-rendering="crispEdges"/>
<rect x="308.00" y="429.675" width="12.8" height="3.175" fill="#ab00b1" shape-rendering="crispEdges"/>
<rect x="308.00" y="432.850" width="12.8" height="3.175" fill="#a000bd" shape-rendering="crispEdges"/>
<rect x="308.00" y="436.025" width="12.8" height="3.175" fill="#9400c8" shape-rendering="crispEdges"/>
<rect x="308.00" y="439.200" width="12.8" height="3.175" fill="#8500d4" shape-rendering="crispEdges"/>
<rect x="308.00" y="442.375" width="12.8" height="3.175" fill="#7300e0" shape-rendering="crispEdges"/>
<rect x="308.00" y="445.550" width="12.8" height="3.175" fill="#5b00ed" shape-rendering="crispEdges"/>
<rect x="308.00" y="448.725" width="12.8" height="3.175" fill="#3500f9" shape-rendering="crispEdges"/>
<line x1="308.00" y1="397.50" x2="310.60" y2="397.50" stroke="rgba(255,255,255,0.6)" stroke-width="1.0"/>
<line x1="318.20" y1="397.50" x2="320.80" y2="397.50" stroke="rgba(255,255,255,0.6)" stroke-width="1.0"/>
<text x="324.70" y="402.10" font-size="10" fill="#333" text-anchor="start">26</text>
<line x1="308.00" y1="408.50" x2="310.60" y2="408.50" stroke="rgba(255,255,255,0.6)" stroke-width="1.0"/>
<line x1="318.20" y1="408.50" x2="320.80" y2="408.50" stroke="rgba(255,255,255,0.6)" stroke-width="1.0"/>
<text x="324.70" y="413.00" font-size="10" fill="#333" text-anchor="start">24</text>
<line x1="308.00" y1="419.50" x2="310.60" y2="419.50" stroke="rgba(255,255,255,0.6)" stroke-width="1.0"/>
<line x1="318.20" y1="419.50" x2="320.80" y2="419.50" stroke="rgba(255,255,255,0.6)" stroke-width="1.0"/>
<text x="324.70" y="423.50" font-size="10" fill="#333" text-anchor="start">22</text>
<line x1="308.00" y1="429.50" x2="310.60" y2="429.50" stroke="rgba(255,255,255,0.6)" stroke-width="1.0"/>
<line x1="318.20" y1="429.50" x2="320.80" y2="429.50" stroke="rgba(255,255,255,0.6)" stroke-width="1.0"/>
<text x="324.70" y="433.80" font-size="10" fill="#333" text-anchor="start">20</text>
<line x1="308.00" y1="439.50" x2="310.60" y2="439.50" stroke="rgba(255,255,255,0.6)" stroke-width="1.0"/>
<line x1="318.20" y1="439.50" x2="320.80" y2="439.50" stroke="rgba(255,255,255,0.6)" stroke-width="1.0"/>
<text x="324.70" y="444.40" font-size="10" fill="#333" text-anchor="start">18</text>
<line x1="308.00" y1="450.50" x2="310.60" y2="450.50" stroke="rgba(255,255,255,0.6)" stroke-width="1.0"/>
<line x1="318.20" y1="450.50" x2="320.80" y2="450.50" stroke="rgba(255,255,255,0.6)" stroke-width="1.0"/>
<text x="324.70" y="454.80" font-size="10" fill="#333" text-anchor="start">16</text>
<text x="345.00" y="309.80" font-size="27" fill="#000" text-anchor="start" font-weight="bold">d</text>
<rect x="383.20" y="291.20" width="116.60" height="19.80" fill="#cccccc"/>
<text x="440.30" y="305.30" font-size="10" fill="#1a1a1a" text-anchor="middle" textLength="37.30" lengthAdjust="spacingAndGlyphs">Females</text>
<rect x="505.60" y="291.20" width="115.90" height="19.80" fill="#cccccc"/>
<text x="559.80" y="305.30" font-size="10" fill="#1a1a1a" text-anchor="middle">Males</text>
<rect x="388.90" y="316.00" width="10.500" height="45.50" fill="#eb0048" shape-rendering="crispEdges"/>
<rect x="399.40" y="316.00" width="10.500" height="45.50" fill="#d40076" shape-rendering="crispEdges"/>
<rect x="409.90" y="316.00" width="10.500" height="45.50" fill="#9200ca" shape-rendering="crispEdges"/>
<rect x="420.40" y="316.00" width="10.500" height="45.50" fill="#7c00da" shape-rendering="crispEdges"/>
<rect x="430.90" y="316.00" width="10.500" height="45.50" fill="#7500df" shape-rendering="crispEdges"/>
<rect x="441.40" y="316.00" width="10.500" height="45.50" fill="#7c00da" shape-rendering="crispEdges"/>
<rect x="451.90" y="316.00" width="10.500" height="45.50" fill="#9f00be" shape-rendering="crispEdges"/>
<rect x="462.40" y="316.00" width="10.500" height="45.50" fill="#aa00b2" shape-rendering="crispEdges"/>
<rect x="472.90" y="316.00" width="10.500" height="45.50" fill="#b600a4" shape-rendering="crispEdges"/>
<rect x="483.40" y="316.00" width="10.500" height="45.50" fill="#c7008d" shape-rendering="crispEdges"/>
<rect x="388.90" y="361.50" width="10.500" height="9.00" fill="#ea004b" shape-rendering="crispEdges"/>
<rect x="399.40" y="361.50" width="10.500" height="9.00" fill="#d30079" shape-rendering="crispEdges"/>
<rect x="409.90" y="361.50" width="10.500" height="9.00" fill="#8d00ce" shape-rendering="crispEdges"/>
<rect x="420.40" y="361.50" width="10.500" height="9.00" fill="#6d00e4" shape-rendering="crispEdges"/>
<rect x="430.90" y="361.50" width="10.500" height="9.00" fill="#6300e9" shape-rendering="crispEdges"/>
<rect x="441.40" y="361.50" width="10.500" height="9.00" fill="#7100e2" shape-rendering="crispEdges"/>
<rect x="451.90" y="361.50" width="10.500" height="9.00" fill="#9a00c3" shape-rendering="crispEdges"/>
<rect x="462.40" y="361.50" width="10.500" height="9.00" fill="#a600b7" shape-rendering="crispEdges"/>
<rect x="472.90" y="361.50" width="10.500" height="9.00" fill="#b200a9" shape-rendering="crispEdges"/>
<rect x="483.40" y="361.50" width="10.500" height="9.00" fill="#c40092" shape-rendering="crispEdges"/>
<rect x="388.90" y="370.50" width="10.500" height="9.00" fill="#e9004d" shape-rendering="crispEdges"/>
<rect x="399.40" y="370.50" width="10.500" height="9.00" fill="#d2007b" shape-rendering="crispEdges"/>
<rect x="409.90" y="370.50" width="10.500" height="9.00" fill="#8700d3" shape-rendering="crispEdges"/>
<rect x="420.40" y="370.50" width="10.500" height="9.00" fill="#6300e9" shape-rendering="crispEdges"/>
<rect x="430.90" y="370.50" width="10.500" height="9.00" fill="#5800ee" shape-rendering="crispEdges"/>
<rect x="441.40" y="370.50" width="10.500" height="9.00" fill="#6800e7" shape-rendering="crispEdges"/>
<rect x="451.90" y="370.50" width="10.500" height="9.00" fill="#9800c5" shape-rendering="crispEdges"/>
<rect x="462.40" y="370.50" width="10.500" height="9.00" fill="#a400b9" shape-rendering="crispEdges"/>
<rect x="472.90" y="370.50" width="10.500" height="9.00" fill="#b000ab" shape-rendering="crispEdges"/>
<rect x="483.40" y="370.50" width="10.500" height="9.00" fill="#c20094" shape-rendering="crispEdges"/>
<rect x="388.90" y="379.50" width="10.500" height="9.00" fill="#e80050" shape-rendering="crispEdges"/>
<rect x="399.40" y="379.50" width="10.500" height="9.00" fill="#d1007d" shape-rendering="crispEdges"/>
<rect x="409.90" y="379.50" width="10.500" height="9.00" fill="#8300d6" shape-rendering="crispEdges"/>
<rect x="420.40" y="379.50" width="10.500" height="9.00" fill="#5e00eb" shape-rendering="crispEdges"/>
<rect x="430.90" y="379.50" width="10.500" height="9.00" fill="#4b00f3" shape-rendering="crispEdges"/>
<rect x="441.40" y="379.50" width="10.500" height="9.00" fill="#6300e9" shape-rendering="crispEdges"/>
<rect x="451.90" y="379.50" width="10.500" height="9.00" fill="#9500c7" shape-rendering="crispEdges"/>
<rect x="462.40" y="379.50" width="10.500" height="9.00" fill="#a200bb" shape-rendering="crispEdges"/>
<rect x="472.90" y="379.50" width="10.500" height="9.00" fill="#b000ab" shape-rendering="crispEdges"/>
<rect x="483.40" y="379.50" width="10.500" height="9.00" fill="#c20094" shape-rendering="crispEdges"/>
<rect x="388.90" y="388.50" width="10.500" height="9.00" fill="#fc0016" shape-rendering="crispEdges"/>
<rect x="399.40" y="388.50" width="10.500" height="9.00" fill="#ed0044" shape-rendering="crispEdges"/>
<rect x="409.90" y="388.50" width="10.500" height="9.00" fill="#a800b4" shape-rendering="crispEdges"/>
<rect x="420.40" y="388.50" width="10.500" height="9.00" fill="#9f00be" shape-rendering="crispEdges"/>
<rect x="430.90" y="388.50" width="10.500" height="9.00" fill="#9d00c0" shape-rendering="crispEdges"/>
<rect x="441.40" y="388.50" width="10.500" height="9.00" fill="#9f00be" shape-rendering="crispEdges"/>
<rect x="451.90" y="388.50" width="10.500" height="9.00" fill="#ae00ad" shape-rendering="crispEdges"/>
<rect x="462.40" y="388.50" width="10.500" height="9.00" fill="#b600a4" shape-rendering="crispEdges"/>
<rect x="472.90" y="388.50" width="10.500" height="9.00" fill="#ca0088" shape-rendering="crispEdges"/>
<rect x="483.40" y="388.50" width="10.500" height="9.00" fill="#d40076" shape-rendering="crispEdges"/>
<rect x="388.90" y="397.50" width="10.500" height="8.70" fill="#ff0000" shape-rendering="crispEdges"/>
<rect x="399.40" y="397.50" width="10.500" height="8.70" fill="#ef003f" shape-rendering="crispEdges"/>
<rect x="409.90" y="397.50" width="10.500" height="8.70" fill="#ba009f" shape-rendering="crispEdges"/>
<rect x="420.40" y="397.50" width="10.500" height="8.70" fill="#b400a6" shape-rendering="crispEdges"/>
<rect x="430.90" y="397.50" width="10.500" height="8.70" fill="#b000ab" shape-rendering="crispEdges"/>
<rect x="441.40" y="397.50" width="10.500" height="8.70" fill="#b600a4" shape-rendering="crispEdges"/>
<rect x="451.90" y="397.50" width="10.500" height="8.70" fill="#c20094" shape-rendering="crispEdges"/>
<rect x="462.40" y="397.50" width="10.500" height="8.70" fill="#ca0088" shape-rendering="crispEdges"/>
<rect x="472.90" y="397.50" width="10.500" height="8.70" fill="#d40076" shape-rendering="crispEdges"/>
<rect x="483.40" y="397.50" width="10.500" height="8.70" fill="#e50056" shape-rendering="crispEdges"/>
<rect x="511.10" y="316.00" width="10.550" height="45.50" fill="#e9004d" shape-rendering="crispEdges"/>
<rect x="521.65" y="316.00" width="10.550" height="45.50" fill="#ca0088" shape-rendering="crispEdges"/>
<rect x="532.20" y="316.00" width="10.550" height="45.50" fill="#8a00d1" shape-rendering="crispEdges"/>
<rect x="542.75" y="316.00" width="10.550" height="45.50" fill="#6800e7" shape-rendering="crispEdges"/>
<rect x="553.30" y="316.00" width="10.550" height="45.50" fill="#5e00eb" shape-rendering="crispEdges"/>
<rect x="563.85" y="316.00" width="10.550" height="45.50" fill="#6800e7" shape-rendering="crispEdges"/>
<rect x="574.40" y="316.00" width="10.550" height="45.50" fill="#9800c5" shape-rendering="crispEdges"/>
<rect x="584.95" y="316.00" width="10.550" height="45.50" fill="#9f00be" shape-rendering="crispEdges"/>
<rect x="595.50" y="316.00" width="10.550" height="45.50" fill="#ae00ad" shape-rendering="crispEdges"/>
<rect x="606.05" y="316.00" width="10.550" height="45.50" fill="#bf0099" shape-rendering="crispEdges"/>
<rect x="511.10" y="361.50" width="10.550" height="9.00" fill="#e9004d" shape-rendering="crispEdges"/>
<rect x="521.65" y="361.50" width="10.550" height="9.00" fill="#c8008b" shape-rendering="crispEdges"/>
<rect x="532.20" y="361.50" width="10.550" height="9.00" fill="#7c00da" shape-rendering="crispEdges"/>
<rect x="542.75" y="361.50" width="10.550" height="9.00" fill="#4700f4" shape-rendering="crispEdges"/>
<rect x="553.30" y="361.50" width="10.550" height="9.00" fill="#3f00f6" shape-rendering="crispEdges"/>
<rect x="563.85" y="361.50" width="10.550" height="9.00" fill="#5500ef" shape-rendering="crispEdges"/>
<rect x="574.40" y="361.50" width="10.550" height="9.00" fill="#8700d3" shape-rendering="crispEdges"/>
<rect x="584.95" y="361.50" width="10.550" height="9.00" fill="#9200ca" shape-rendering="crispEdges"/>
<rect x="595.50" y="361.50" width="10.550" height="9.00" fill="#a400b9" shape-rendering="crispEdges"/>
<rect x="606.05" y="361.50" width="10.550" height="9.00" fill="#b600a4" shape-rendering="crispEdges"/>
<rect x="511.10" y="370.50" width="10.550" height="9.00" fill="#e80050" shape-rendering="crispEdges"/>
<rect x="521.65" y="370.50" width="10.550" height="9.00" fill="#c7008d" shape-rendering="crispEdges"/>
<rect x="532.20" y="370.50" width="10.550" height="9.00" fill="#7500df" shape-rendering="crispEdges"/>
<rect x="542.75" y="370.50" width="10.550" height="9.00" fill="#3500f9" shape-rendering="crispEdges"/>
<rect x="553.30" y="370.50" width="10.550" height="9.00" fill="#2800fb" shape-rendering="crispEdges"/>
<rect x="563.85" y="370.50" width="10.550" height="9.00" fill="#4700f4" shape-rendering="crispEdges"/>
<rect x="574.40" y="370.50" width="10.550" height="9.00" fill="#8700d3" shape-rendering="crispEdges"/>
<rect x="584.95" y="370.50" width="10.550" height="9.00" fill="#9200ca" shape-rendering="crispEdges"/>
<rect x="595.50" y="370.50" width="10.550" height="9.00" fill="#a400b9" shape-rendering="crispEdges"/>
<rect x="606.05" y="370.50" width="10.550" height="9.00" fill="#b600a4" shape-rendering="crispEdges"/>
<rect x="511.10" y="379.50" width="10.550" height="9.00" fill="#e80050" shape-rendering="crispEdges"/>
<rect x="521.65" y="379.50" width="10.550" height="9.00" fill="#c7008d" shape-rendering="crispEdges"/>
<rect x="532.20" y="379.50" width="10.550" height="9.00" fill="#6d00e4" shape-rendering="crispEdges"/>
<rect x="542.75" y="379.50" width="10.550" height="9.00" fill="#2000fd" shape-rendering="crispEdges"/>
<rect x="553.30" y="379.50" width="10.550" height="9.00" fill="#0000ff" shape-rendering="crispEdges"/>
<rect x="563.85" y="379.50" width="10.550" height="9.00" fill="#3500f9" shape-rendering="crispEdges"/>
<rect x="574.40" y="379.50" width="10.550" height="9.00" fill="#8700d3" shape-rendering="crispEdges"/>
<rect x="584.95" y="379.50" width="10.550" height="9.00" fill="#9200ca" shape-rendering="crispEdges"/>
<rect x="595.50" y="379.50" width="10.550" height="9.00" fill="#a400b9" shape-rendering="crispEdges"/>
<rect x="606.05" y="379.50" width="10.550" height="9.00" fill="#b600a4" shape-rendering="crispEdges"/>
<rect x="511.10" y="388.50" width="10.550" height="9.00" fill="#f6002a" shape-rendering="crispEdges"/>
<rect x="521.65" y="388.50" width="10.550" height="9.00" fill="#e70052" shape-rendering="crispEdges"/>
<rect x="532.20" y="388.50" width="10.550" height="9.00" fill="#a400b9" shape-rendering="crispEdges"/>
<rect x="542.75" y="388.50" width="10.550" height="9.00" fill="#9800c5" shape-rendering="crispEdges"/>
<rect x="553.30" y="388.50" width="10.550" height="9.00" fill="#9500c7" shape-rendering="crispEdges"/>
<rect x="563.85" y="388.50" width="10.550" height="9.00" fill="#9800c5" shape-rendering="crispEdges"/>
<rect x="574.40" y="388.50" width="10.550" height="9.00" fill="#ae00ad" shape-rendering="crispEdges"/>
<rect x="584.95" y="388.50" width="10.550" height="9.00" fill="#b400a6" shape-rendering="crispEdges"/>
<rect x="595.50" y="388.50" width="10.550" height="9.00" fill="#c40092" shape-rendering="crispEdges"/>
<rect x="606.05" y="388.50" width="10.550" height="9.00" fill="#d30079" shape-rendering="crispEdges"/>
<rect x="511.10" y="397.50" width="10.550" height="8.70" fill="#fc0016" shape-rendering="crispEdges"/>
<rect x="521.65" y="397.50" width="10.550" height="8.70" fill="#e9004d" shape-rendering="crispEdges"/>
<rect x="532.20" y="397.50" width="10.550" height="8.70" fill="#b600a4" shape-rendering="crispEdges"/>
<rect x="542.75" y="397.50" width="10.550" height="8.70" fill="#ae00ad" shape-rendering="crispEdges"/>
<rect x="553.30" y="397.50" width="10.550" height="8.70" fill="#aa00b2" shape-rendering="crispEdges"/>
<rect x="563.85" y="397.50" width="10.550" height="8.70" fill="#b400a6" shape-rendering="crispEdges"/>
<rect x="574.40" y="397.50" width="10.550" height="8.70" fill="#c20094" shape-rendering="crispEdges"/>
<rect x="584.95" y="397.50" width="10.550" height="8.70" fill="#ca0088" shape-rendering="crispEdges"/>
<rect x="595.50" y="397.50" width="10.550" height="8.70" fill="#d40076" shape-rendering="crispEdges"/>
<rect x="606.05" y="397.50" width="10.550" height="8.70" fill="#e50056" shape-rendering="crispEdges"/>
<rect x="388.90" y="421.80" width="10.500" height="45.40" fill="#eb0048" shape-rendering="crispEdges"/>
<rect x="399.40" y="421.80" width="10.500" height="45.40" fill="#d40076" shape-rendering="crispEdges"/>
<rect x="409.90" y="421.80" width="10.500" height="45.40" fill="#9200ca" shape-rendering="crispEdges"/>
<rect x="420.40" y="421.80" width="10.500" height="45.40" fill="#7c00da" shape-rendering="crispEdges"/>
<rect x="430.90" y="421.80" width="10.500" height="45.40" fill="#7500df" shape-rendering="crispEdges"/>
<rect x="441.40" y="421.80" width="10.500" height="45.40" fill="#7c00da" shape-rendering="crispEdges"/>
<rect x="451.90" y="421.80" width="10.500" height="45.40" fill="#9f00be" shape-rendering="crispEdges"/>
<rect x="462.40" y="421.80" width="10.500" height="45.40" fill="#aa00b2" shape-rendering="crispEdges"/>
<rect x="472.90" y="421.80" width="10.500" height="45.40" fill="#b600a4" shape-rendering="crispEdges"/>
<rect x="483.40" y="421.80" width="10.500" height="45.40" fill="#c7008d" shape-rendering="crispEdges"/>
<rect x="388.90" y="467.20" width="10.500" height="9.00" fill="#ea004b" shape-rendering="crispEdges"/>
<rect x="399.40" y="467.20" width="10.500" height="9.00" fill="#d30079" shape-rendering="crispEdges"/>
<rect x="409.90" y="467.20" width="10.500" height="9.00" fill="#8d00ce" shape-rendering="crispEdges"/>
<rect x="420.40" y="467.20" width="10.500" height="9.00" fill="#6d00e4" shape-rendering="crispEdges"/>
<rect x="430.90" y="467.20" width="10.500" height="9.00" fill="#6300e9" shape-rendering="crispEdges"/>
<rect x="441.40" y="467.20" width="10.500" height="9.00" fill="#7100e2" shape-rendering="crispEdges"/>
<rect x="451.90" y="467.20" width="10.500" height="9.00" fill="#9a00c3" shape-rendering="crispEdges"/>
<rect x="462.40" y="467.20" width="10.500" height="9.00" fill="#a600b7" shape-rendering="crispEdges"/>
<rect x="472.90" y="467.20" width="10.500" height="9.00" fill="#b200a9" shape-rendering="crispEdges"/>
<rect x="483.40" y="467.20" width="10.500" height="9.00" fill="#c40092" shape-rendering="crispEdges"/>
<rect x="388.90" y="476.20" width="10.500" height="9.10" fill="#e9004d" shape-rendering="crispEdges"/>
<rect x="399.40" y="476.20" width="10.500" height="9.10" fill="#d2007b" shape-rendering="crispEdges"/>
<rect x="409.90" y="476.20" width="10.500" height="9.10" fill="#8700d3" shape-rendering="crispEdges"/>
<rect x="420.40" y="476.20" width="10.500" height="9.10" fill="#6300e9" shape-rendering="crispEdges"/>
<rect x="430.90" y="476.20" width="10.500" height="9.10" fill="#5800ee" shape-rendering="crispEdges"/>
<rect x="441.40" y="476.20" width="10.500" height="9.10" fill="#6800e7" shape-rendering="crispEdges"/>
<rect x="451.90" y="476.20" width="10.500" height="9.10" fill="#9800c5" shape-rendering="crispEdges"/>
<rect x="462.40" y="476.20" width="10.500" height="9.10" fill="#a400b9" shape-rendering="crispEdges"/>
<rect x="472.90" y="476.20" width="10.500" height="9.10" fill="#b000ab" shape-rendering="crispEdges"/>
<rect x="483.40" y="476.20" width="10.500" height="9.10" fill="#c20094" shape-rendering="crispEdges"/>
<rect x="388.90" y="485.30" width="10.500" height="9.00" fill="#e80050" shape-rendering="crispEdges"/>
<rect x="399.40" y="485.30" width="10.500" height="9.00" fill="#d1007d" shape-rendering="crispEdges"/>
<rect x="409.90" y="485.30" width="10.500" height="9.00" fill="#8300d6" shape-rendering="crispEdges"/>
<rect x="420.40" y="485.30" width="10.500" height="9.00" fill="#5e00eb" shape-rendering="crispEdges"/>
<rect x="430.90" y="485.30" width="10.500" height="9.00" fill="#4b00f3" shape-rendering="crispEdges"/>
<rect x="441.40" y="485.30" width="10.500" height="9.00" fill="#6300e9" shape-rendering="crispEdges"/>
<rect x="451.90" y="485.30" width="10.500" height="9.00" fill="#9500c7" shape-rendering="crispEdges"/>
<rect x="462.40" y="485.30" width="10.500" height="9.00" fill="#a200bb" shape-rendering="crispEdges"/>
<rect x="472.90" y="485.30" width="10.500" height="9.00" fill="#b000ab" shape-rendering="crispEdges"/>
<rect x="483.40" y="485.30" width="10.500" height="9.00" fill="#c20094" shape-rendering="crispEdges"/>
<rect x="388.90" y="494.30" width="10.500" height="9.10" fill="#fc0016" shape-rendering="crispEdges"/>
<rect x="399.40" y="494.30" width="10.500" height="9.10" fill="#ed0044" shape-rendering="crispEdges"/>
<rect x="409.90" y="494.30" width="10.500" height="9.10" fill="#a800b4" shape-rendering="crispEdges"/>
<rect x="420.40" y="494.30" width="10.500" height="9.10" fill="#9f00be" shape-rendering="crispEdges"/>
<rect x="430.90" y="494.30" width="10.500" height="9.10" fill="#9d00c0" shape-rendering="crispEdges"/>
<rect x="441.40" y="494.30" width="10.500" height="9.10" fill="#9f00be" shape-rendering="crispEdges"/>
<rect x="451.90" y="494.30" width="10.500" height="9.10" fill="#ae00ad" shape-rendering="crispEdges"/>
<rect x="462.40" y="494.30" width="10.500" height="9.10" fill="#b600a4" shape-rendering="crispEdges"/>
<rect x="472.90" y="494.30" width="10.500" height="9.10" fill="#ca0088" shape-rendering="crispEdges"/>
<rect x="483.40" y="494.30" width="10.500" height="9.10" fill="#d40076" shape-rendering="crispEdges"/>
<rect x="388.90" y="503.40" width="10.500" height="8.30" fill="#ff0000" shape-rendering="crispEdges"/>
<rect x="399.40" y="503.40" width="10.500" height="8.30" fill="#ef003f" shape-rendering="crispEdges"/>
<rect x="409.90" y="503.40" width="10.500" height="8.30" fill="#ba009f" shape-rendering="crispEdges"/>
<rect x="420.40" y="503.40" width="10.500" height="8.30" fill="#b400a6" shape-rendering="crispEdges"/>
<rect x="430.90" y="503.40" width="10.500" height="8.30" fill="#b000ab" shape-rendering="crispEdges"/>
<rect x="441.40" y="503.40" width="10.500" height="8.30" fill="#b600a4" shape-rendering="crispEdges"/>
<rect x="451.90" y="503.40" width="10.500" height="8.30" fill="#c20094" shape-rendering="crispEdges"/>
<rect x="462.40" y="503.40" width="10.500" height="8.30" fill="#ca0088" shape-rendering="crispEdges"/>
<rect x="472.90" y="503.40" width="10.500" height="8.30" fill="#d40076" shape-rendering="crispEdges"/>
<rect x="483.40" y="503.40" width="10.500" height="8.30" fill="#e50056" shape-rendering="crispEdges"/>
<rect x="511.10" y="421.80" width="10.550" height="45.40" fill="#e9004d" shape-rendering="crispEdges"/>
<rect x="521.65" y="421.80" width="10.550" height="45.40" fill="#ca0088" shape-rendering="crispEdges"/>
<rect x="532.20" y="421.80" width="10.550" height="45.40" fill="#8a00d1" shape-rendering="crispEdges"/>
<rect x="542.75" y="421.80" width="10.550" height="45.40" fill="#6800e7" shape-rendering="crispEdges"/>
<rect x="553.30" y="421.80" width="10.550" height="45.40" fill="#5e00eb" shape-rendering="crispEdges"/>
<rect x="563.85" y="421.80" width="10.550" height="45.40" fill="#6800e7" shape-rendering="crispEdges"/>
<rect x="574.40" y="421.80" width="10.550" height="45.40" fill="#9800c5" shape-rendering="crispEdges"/>
<rect x="584.95" y="421.80" width="10.550" height="45.40" fill="#9f00be" shape-rendering="crispEdges"/>
<rect x="595.50" y="421.80" width="10.550" height="45.40" fill="#ae00ad" shape-rendering="crispEdges"/>
<rect x="606.05" y="421.80" width="10.550" height="45.40" fill="#bf0099" shape-rendering="crispEdges"/>
<rect x="511.10" y="467.20" width="10.550" height="9.00" fill="#e9004d" shape-rendering="crispEdges"/>
<rect x="521.65" y="467.20" width="10.550" height="9.00" fill="#c8008b" shape-rendering="crispEdges"/>
<rect x="532.20" y="467.20" width="10.550" height="9.00" fill="#7c00da" shape-rendering="crispEdges"/>
<rect x="542.75" y="467.20" width="10.550" height="9.00" fill="#4700f4" shape-rendering="crispEdges"/>
<rect x="553.30" y="467.20" width="10.550" height="9.00" fill="#3f00f6" shape-rendering="crispEdges"/>
<rect x="563.85" y="467.20" width="10.550" height="9.00" fill="#5500ef" shape-rendering="crispEdges"/>
<rect x="574.40" y="467.20" width="10.550" height="9.00" fill="#8700d3" shape-rendering="crispEdges"/>
<rect x="584.95" y="467.20" width="10.550" height="9.00" fill="#9200ca" shape-rendering="crispEdges"/>
<rect x="595.50" y="467.20" width="10.550" height="9.00" fill="#a400b9" shape-rendering="crispEdges"/>
<rect x="606.05" y="467.20" width="10.550" height="9.00" fill="#b600a4" shape-rendering="crispEdges"/>
<rect x="511.10" y="476.20" width="10.550" height="9.10" fill="#e80050" shape-rendering="crispEdges"/>
<rect x="521.65" y="476.20" width="10.550" height="9.10" fill="#c7008d" shape-rendering="crispEdges"/>
<rect x="532.20" y="476.20" width="10.550" height="9.10" fill="#7500df" shape-rendering="crispEdges"/>
<rect x="542.75" y="476.20" width="10.550" height="9.10" fill="#3500f9" shape-rendering="crispEdges"/>
<rect x="553.30" y="476.20" width="10.550" height="9.10" fill="#2800fb" shape-rendering="crispEdges"/>
<rect x="563.85" y="476.20" width="10.550" height="9.10" fill="#4700f4" shape-rendering="crispEdges"/>
<rect x="574.40" y="476.20" width="10.550" height="9.10" fill="#8700d3" shape-rendering="crispEdges"/>
<rect x="584.95" y="476.20" width="10.550" height="9.10" fill="#9200ca" shape-rendering="crispEdges"/>
<rect x="595.50" y="476.20" width="10.550" height="9.10" fill="#a400b9" shape-rendering="crispEdges"/>
<rect x="606.05" y="476.20" width="10.550" height="9.10" fill="#b600a4" shape-rendering="crispEdges"/>
<rect x="511.10" y="485.30" width="10.550" height="9.00" fill="#e80050" shape-rendering="crispEdges"/>
<rect x="521.65" y="485.30" width="10.550" height="9.00" fill="#c7008d" shape-rendering="crispEdges"/>
<rect x="532.20" y="485.30" width="10.550" height="9.00" fill="#6d00e4" shape-rendering="crispEdges"/>
<rect x="542.75" y="485.30" width="10.550" height="9.00" fill="#2000fd" shape-rendering="crispEdges"/>
<rect x="553.30" y="485.30" width="10.550" height="9.00" fill="#0000ff" shape-rendering="crispEdges"/>
<rect x="563.85" y="485.30" width="10.550" height="9.00" fill="#3500f9" shape-rendering="crispEdges"/>
<rect x="574.40" y="485.30" width="10.550" height="9.00" fill="#8700d3" shape-rendering="crispEdges"/>
<rect x="584.95" y="485.30" width="10.550" height="9.00" fill="#9200ca" shape-rendering="crispEdges"/>
<rect x="595.50" y="485.30" width="10.550" height="9.00" fill="#a400b9" shape-rendering="crispEdges"/>
<rect x="606.05" y="485.30" width="10.550" height="9.00" fill="#b600a4" shape-rendering="crispEdges"/>
<rect x="511.10" y="494.30" width="10.550" height="9.10" fill="#f6002a" shape-rendering="crispEdges"/>
<rect x="521.65" y="494.30" width="10.550" height="9.10" fill="#e70052" shape-rendering="crispEdges"/>
<rect x="532.20" y="494.30" width="10.550" height="9.10" fill="#a400b9" shape-rendering="crispEdges"/>
<rect x="542.75" y="494.30" width="10.550" height="9.10" fill="#9800c5" shape-rendering="crispEdges"/>
<rect x="553.30" y="494.30" width="10.550" height="9.10" fill="#9500c7" shape-rendering="crispEdges"/>
<rect x="563.85" y="494.30" width="10.550" height="9.10" fill="#9800c5" shape-rendering="crispEdges"/>
<rect x="574.40" y="494.30" width="10.550" height="9.10" fill="#ae00ad" shape-rendering="crispEdges"/>
<rect x="584.95" y="494.30" width="10.550" height="9.10" fill="#b400a6" shape-rendering="crispEdges"/>
<rect x="595.50" y="494.30" width="10.550" height="9.10" fill="#c40092" shape-rendering="crispEdges"/>
<rect x="606.05" y="494.30" width="10.550" height="9.10" fill="#d30079" shape-rendering="crispEdges"/>
<rect x="511.10" y="503.40" width="10.550" height="8.30" fill="#fc0016" shape-rendering="crispEdges"/>
<rect x="521.65" y="503.40" width="10.550" height="8.30" fill="#e9004d" shape-rendering="crispEdges"/>
<rect x="532.20" y="503.40" width="10.550" height="8.30" fill="#b600a4" shape-rendering="crispEdges"/>
<rect x="542.75" y="503.40" width="10.550" height="8.30" fill="#ae00ad" shape-rendering="crispEdges"/>
<rect x="553.30" y="503.40" width="10.550" height="8.30" fill="#aa00b2" shape-rendering="crispEdges"/>
<rect x="563.85" y="503.40" width="10.550" height="8.30" fill="#b400a6" shape-rendering="crispEdges"/>
<rect x="574.40" y="503.40" width="10.550" height="8.30" fill="#c20094" shape-rendering="crispEdges"/>
<rect x="584.95" y="503.40" width="10.550" height="8.30" fill="#ca0088" shape-rendering="crispEdges"/>
<rect x="595.50" y="503.40" width="10.550" height="8.30" fill="#d40076" shape-rendering="crispEdges"/>
<rect x="606.05" y="503.40" width="10.550" height="8.30" fill="#e50056" shape-rendering="crispEdges"/>
<rect x="622.00" y="311.50" width="19.90" height="98.80" fill="#cccccc"/>
<text x="628.00" y="365.00" font-size="10" fill="#1a1a1a" text-anchor="middle" transform="rotate(90 628.00 365.00)">Monotherapy</text>
<rect x="622.00" y="417.30" width="19.90" height="98.80" fill="#cccccc"/>
<text x="628.00" y="465.70" font-size="10" fill="#1a1a1a" text-anchor="middle" transform="rotate(90 628.00 465.70)">Combination</text>
<line x1="383.50" y1="311.00" x2="383.50" y2="410.40" stroke="#333333" stroke-width="1.0"/>
<line x1="383.50" y1="417.40" x2="383.50" y2="516.50" stroke="#333333" stroke-width="1.0"/>
<line x1="383.40" y1="516.50" x2="498.80" y2="516.50" stroke="#333333" stroke-width="1.0"/>
<line x1="505.70" y1="516.50" x2="621.00" y2="516.50" stroke="#333333" stroke-width="1.0"/>
<line x1="380.20" y1="325.50" x2="383.40" y2="325.50" stroke="#333333" stroke-width="1.0"/>
<text x="377.50" y="329.90" font-size="10" fill="#333" text-anchor="end">3</text>
<line x1="380.20" y1="355.50" x2="383.40" y2="355.50" stroke="#333333" stroke-width="1.0"/>
<text x="377.50" y="359.70" font-size="10" fill="#333" text-anchor="end">2</text>
<line x1="380.20" y1="385.50" x2="383.40" y2="385.50" stroke="#333333" stroke-width="1.0"/>
<text x="377.50" y="390.00" font-size="10" fill="#333" text-anchor="end">1</text>
<line x1="380.20" y1="431.50" x2="383.40" y2="431.50" stroke="#333333" stroke-width="1.0"/>
<text x="377.50" y="435.70" font-size="10" fill="#333" text-anchor="end">3</text>
<line x1="380.20" y1="461.50" x2="383.40" y2="461.50" stroke="#333333" stroke-width="1.0"/>
<text x="377.50" y="465.50" font-size="10" fill="#333" text-anchor="end">2</text>
<line x1="380.20" y1="491.50" x2="383.40" y2="491.50" stroke="#333333" stroke-width="1.0"/>
<text x="377.50" y="495.80" font-size="10" fill="#333" text-anchor="end">1</text>
<line x1="405.50" y1="516.10" x2="405.50" y2="519.00" stroke="#333333" stroke-width="1.0"/>
<text x="405.80" y="530.70" font-size="10" fill="#333" text-anchor="middle">20</text>
<line x1="528.50" y1="516.10" x2="528.50" y2="519.00" stroke="#333333" stroke-width="1.0"/>
<text x="528.00" y="530.70" font-size="10" fill="#333" text-anchor="middle">20</text>
<line x1="436.50" y1="516.10" x2="436.50" y2="519.00" stroke="#333333" stroke-width="1.0"/>
<text x="436.40" y="530.70" font-size="10" fill="#333" text-anchor="middle">30</text>
<line x1="558.50" y1="516.10" x2="558.50" y2="519.00" stroke="#333333" stroke-width="1.0"/>
<text x="558.60" y="530.70" font-size="10" fill="#333" text-anchor="middle">30</text>
<line x1="467.50" y1="516.10" x2="467.50" y2="519.00" stroke="#333333" stroke-width="1.0"/>
<text x="467.00" y="530.70" font-size="10" fill="#333" text-anchor="middle">40</text>
<line x1="589.50" y1="516.10" x2="589.50" y2="519.00" stroke="#333333" stroke-width="1.0"/>
<text x="589.20" y="530.70" font-size="10" fill="#333" text-anchor="middle">40</text>
<line x1="497.50" y1="516.10" x2="497.50" y2="519.00" stroke="#333333" stroke-width="1.0"/>
<text x="497.60" y="530.70" font-size="10" fill="#333" text-anchor="middle">50</text>
<line x1="619.50" y1="516.10" x2="619.50" y2="519.00" stroke="#333333" stroke-width="1.0"/>
<text x="619.80" y="530.70" font-size="10" fill="#333" text-anchor="middle">50</text>
<text x="364.20" y="402.50" font-size="12" fill="#111" text-anchor="middle" textLength="131.50" lengthAdjust="spacingAndGlyphs" transform="rotate(-90 364.20 402.50)">Serum Creatinine (mg/dL)</text>
<text x="510.20" y="544.60" font-size="12" fill="#111" text-anchor="middle" textLength="126.90" lengthAdjust="spacingAndGlyphs">Body Mass Index (kg/m²)</text>
<text x="656.80" y="384.40" font-size="11" fill="#222" text-anchor="start">Risk</text>
<rect x="656.80" y="388.500" width="12.8" height="3.165" fill="#fd000f" shape-rendering="crispEdges"/>
<rect x="656.80" y="391.665" width="12.8" height="3.165" fill="#f90023" shape-rendering="crispEdges"/>
<rect x="656.80" y="394.830" width="12.8" height="3.165" fill="#f40031" shape-rendering="crispEdges"/>
<rect x="656.80" y="397.995" width="12.8" height="3.165" fill="#ef003e" shape-rendering="crispEdges"/>
<rect x="656.80" y="401.160" width="12.8" height="3.165" fill="#eb004a" shape-rendering="crispEdges"/>
<rect x="656.80" y="404.325" width="12.8" height="3.165" fill="#e50055" shape-rendering="crispEdges"/>
<rect x="656.80" y="407.490" width="12.8" height="3.165" fill="#e00061" shape-rendering="crispEdges"/>
<rect x="656.80" y="410.655" width="12.8" height="3.165" fill="#da006c" shape-rendering="crispEdges"/>
<rect x="656.80" y="413.820" width="12.8" height="3.165" fill="#d40077" shape-rendering="crispEdges"/>
<rect x="656.80" y="416.985" width="12.8" height="3.165" fill="#cd0083" shape-rendering="crispEdges"/>
<rect x="656.80" y="420.150" width="12.8" height="3.165" fill="#c6008e" shape-rendering="crispEdges"/>
<rect x="656.80" y="423.315" width="12.8" height="3.165" fill="#be009a" shape-rendering="crispEdges"/>
<rect x="656.80" y="426.480" width="12.8" height="3.165" fill="#b500a5" shape-rendering="crispEdges"/>
<rect x="656.80" y="429.645" width="12.8" height="3.165" fill="#ab00b1" shape-rendering="crispEdges"/>
<rect x="656.80" y="432.810" width="12.8" height="3.165" fill="#a000bd" shape-rendering="crispEdges"/>
<rect x="656.80" y="435.975" width="12.8" height="3.165" fill="#9400c8" shape-rendering="crispEdges"/>
<rect x="656.80" y="439.140" width="12.8" height="3.165" fill="#8500d4" shape-rendering="crispEdges"/>
<rect x="656.80" y="442.305" width="12.8" height="3.165" fill="#7300e0" shape-rendering="crispEdges"/>
<rect x="656.80" y="445.470" width="12.8" height="3.165" fill="#5b00ed" shape-rendering="crispEdges"/>
<rect x="656.80" y="448.635" width="12.8" height="3.165" fill="#3500f9" shape-rendering="crispEdges"/>
<line x1="656.80" y1="398.50" x2="659.40" y2="398.50" stroke="rgba(255,255,255,0.6)" stroke-width="1.0"/>
<line x1="667.00" y1="398.50" x2="669.60" y2="398.50" stroke="rgba(255,255,255,0.6)" stroke-width="1.0"/>
<text x="673.80" y="403.00" font-size="10" fill="#333" text-anchor="start">26</text>
<line x1="656.80" y1="409.50" x2="659.40" y2="409.50" stroke="rgba(255,255,255,0.6)" stroke-width="1.0"/>
<line x1="667.00" y1="409.50" x2="669.60" y2="409.50" stroke="rgba(255,255,255,0.6)" stroke-width="1.0"/>
<text x="673.80" y="413.90" font-size="10" fill="#333" text-anchor="start">24</text>
<line x1="656.80" y1="420.50" x2="659.40" y2="420.50" stroke="rgba(255,255,255,0.6)" stroke-width="1.0"/>
<line x1="667.00" y1="420.50" x2="669.60" y2="420.50" stroke="rgba(255,255,255,0.6)" stroke-width="1.0"/>
<text x="673.80" y="424.90" font-size="10" fill="#333" text-anchor="start">22</text>
<line x1="656.80" y1="431.50" x2="659.40" y2="431.50" stroke="rgba(255,255,255,0.6)" stroke-width="1.0"/>
<line x1="667.00" y1="431.50" x2="669.60" y2="431.50" stroke="rgba(255,255,255,0.6)" stroke-width="1.0"/>
<text x="673.80" y="436.10" font-size="10" fill="#333" text-anchor="start">20</text>
<line x1="656.80" y1="442.50" x2="659.40" y2="442.50" stroke="rgba(255,255,255,0.6)" stroke-width="1.0"/>
<line x1="667.00" y1="442.50" x2="669.60" y2="442.50" stroke="rgba(255,255,255,0.6)" stroke-width="1.0"/>
<text x="673.80" y="447.00" font-size="10" fill="#333" text-anchor="start">18</text>
<text x="2.50" y="577.00" font-size="27" fill="#000" text-anchor="start" font-weight="bold">e</text>
<rect x="37.2" y="587.3" width="270.8" height="190.2" fill="none" stroke="#444" stroke-width="0.9"/>
<line x1="33.50" y1="593.50" x2="37.20" y2="593.50" stroke="#444" stroke-width="1.0"/>
<text x="31.50" y="596.50" font-size="10" fill="#333" text-anchor="middle" transform="rotate(-90 31.50 596.50)">24</text>
<line x1="33.50" y1="635.50" x2="37.20" y2="635.50" stroke="#444" stroke-width="1.0"/>
<text x="31.50" y="638.00" font-size="10" fill="#333" text-anchor="middle" transform="rotate(-90 31.50 638.00)">22</text>
<line x1="33.50" y1="677.50" x2="37.20" y2="677.50" stroke="#444" stroke-width="1.0"/>
<text x="31.50" y="680.10" font-size="10" fill="#333" text-anchor="middle" transform="rotate(-90 31.50 680.10)">20</text>
<line x1="33.50" y1="719.50" x2="37.20" y2="719.50" stroke="#444" stroke-width="1.0"/>
<text x="31.50" y="722.40" font-size="10" fill="#333" text-anchor="middle" transform="rotate(-90 31.50 722.40)">18</text>
<line x1="33.50" y1="761.50" x2="37.20" y2="761.50" stroke="#444" stroke-width="1.0"/>
<text x="31.50" y="764.50" font-size="10" fill="#333" text-anchor="middle" transform="rotate(-90 31.50 764.50)">16</text>
<line x1="51.50" y1="777.50" x2="51.50" y2="781.00" stroke="#444" stroke-width="1.0"/>
<text x="54.40" y="793.00" font-size="10" fill="#333" text-anchor="middle">0.5</text>
<line x1="97.50" y1="777.50" x2="97.50" y2="781.00" stroke="#444" stroke-width="1.0"/>
<text x="100.65" y="793.00" font-size="10" fill="#333" text-anchor="middle">1.0</text>
<line x1="143.50" y1="777.50" x2="143.50" y2="781.00" stroke="#444" stroke-width="1.0"/>
<text x="146.90" y="793.00" font-size="10" fill="#333" text-anchor="middle">1.5</text>
<line x1="190.50" y1="777.50" x2="190.50" y2="781.00" stroke="#444" stroke-width="1.0"/>
<text x="193.15" y="793.00" font-size="10" fill="#333" text-anchor="middle">2.0</text>
<line x1="236.50" y1="777.50" x2="236.50" y2="781.00" stroke="#444" stroke-width="1.0"/>
<text x="239.40" y="793.00" font-size="10" fill="#333" text-anchor="middle">2.5</text>
<line x1="282.50" y1="777.50" x2="282.50" y2="781.00" stroke="#444" stroke-width="1.0"/>
<text x="285.65" y="793.00" font-size="10" fill="#333" text-anchor="middle">3.0</text>
<text x="11.50" y="679.00" font-size="12" fill="#111" text-anchor="middle" transform="rotate(-90 11.50 679.00)">Risk</text>
<text x="174.80" y="819.50" font-size="11" fill="#111" text-anchor="middle" textLength="121.20" lengthAdjust="spacingAndGlyphs">Serum Creatinine (mg/dL)</text>
<line x1="48.00" y1="771.5" x2="48.00" y2="777.3" stroke="#555" stroke-width="0.6"/>
<line x1="120.30" y1="771.5" x2="120.30" y2="777.3" stroke="#555" stroke-width="0.6"/>
<line x1="127.60" y1="771.5" x2="127.60" y2="777.3" stroke="#555" stroke-width="0.6"/>
<line x1="133.40" y1="771.5" x2="133.40" y2="777.3" stroke="#555" stroke-width="0.6"/>
<line x1="148.90" y1="771.5" x2="148.90" y2="777.3" stroke="#555" stroke-width="0.6"/>
<line x1="150.80" y1="771.5" x2="150.80" y2="777.3" stroke="#555" stroke-width="0.6"/>
<line x1="174.40" y1="771.5" x2="174.40" y2="777.3" stroke="#555" stroke-width="0.6"/>
<line x1="179.40" y1="771.5" x2="179.40" y2="777.3" stroke="#555" stroke-width="0.6"/>
<line x1="262.60" y1="771.5" x2="262.60" y2="777.3" stroke="#555" stroke-width="0.6"/>
<line x1="297.80" y1="771.5" x2="297.80" y2="777.3" stroke="#555" stroke-width="0.6"/>
<line x1="54.00" y1="771.5" x2="54.00" y2="777.3" stroke="#555" stroke-width="0.6"/>
<line x1="54.96" y1="771.5" x2="54.96" y2="777.3" stroke="#555" stroke-width="0.6"/>
<line x1="56.26" y1="771.5" x2="56.26" y2="777.3" stroke="#555" stroke-width="0.6"/>
<line x1="57.37" y1="771.5" x2="57.37" y2="777.3" stroke="#555" stroke-width="0.6"/>
<line x1="58.73" y1="771.5" x2="58.73" y2="777.3" stroke="#555" stroke-width="0.6"/>
<line x1="60.12" y1="771.5" x2="60.12" y2="777.3" stroke="#555" stroke-width="0.6"/>
<line x1="60.89" y1="771.5" x2="60.89" y2="777.3" stroke="#555" stroke-width="0.6"/>
<line x1="61.61" y1="771.5" x2="61.61" y2="777.3" stroke="#555" stroke-width="0.6"/>
<line x1="63.23" y1="771.5" x2="63.23" y2="777.3" stroke="#555" stroke-width="0.6"/>
<line x1="64.21" y1="771.5" x2="64.21" y2="777.3" stroke="#555" stroke-width="0.6"/>
<line x1="65.17" y1="771.5" x2="65.17" y2="777.3" stroke="#555" stroke-width="0.6"/>
<line x1="66.97" y1="771.5" x2="66.97" y2="777.3" stroke="#555" stroke-width="0.6"/>
<line x1="68.18" y1="771.5" x2="68.18" y2="777.3" stroke="#555" stroke-width="0.6"/>
<line x1="69.80" y1="771.5" x2="69.80" y2="777.3" stroke="#555" stroke-width="0.6"/>
<line x1="71.03" y1="771.5" x2="71.03" y2="777.3" stroke="#555" stroke-width="0.6"/>
<line x1="72.43" y1="771.5" x2="72.43" y2="777.3" stroke="#555" stroke-width="0.6"/>
<line x1="73.30" y1="771.5" x2="73.30" y2="777.3" stroke="#555" stroke-width="0.6"/>
<line x1="74.69" y1="771.5" x2="74.69" y2="777.3" stroke="#555" stroke-width="0.6"/>
<line x1="76.35" y1="771.5" x2="76.35" y2="777.3" stroke="#555" stroke-width="0.6"/>
<line x1="77.62" y1="771.5" x2="77.62" y2="777.3" stroke="#555" stroke-width="0.6"/>
<line x1="79.14" y1="771.5" x2="79.14" y2="777.3" stroke="#555" stroke-width="0.6"/>
<line x1="80.58" y1="771.5" x2="80.58" y2="777.3" stroke="#555" stroke-width="0.6"/>
<line x1="81.35" y1="771.5" x2="81.35" y2="777.3" stroke="#555" stroke-width="0.6"/>
<line x1="82.88" y1="771.5" x2="82.88" y2="777.3" stroke="#555" stroke-width="0.6"/>
<line x1="84.23" y1="771.5" x2="84.23" y2="777.3" stroke="#555" stroke-width="0.6"/>
<line x1="85.26" y1="771.5" x2="85.26" y2="777.3" stroke="#555" stroke-width="0.6"/>
<line x1="86.00" y1="771.5" x2="86.00" y2="777.3" stroke="#555" stroke-width="0.6"/>
<line x1="87.65" y1="771.5" x2="87.65" y2="777.3" stroke="#555" stroke-width="0.6"/>
<line x1="88.87" y1="771.5" x2="88.87" y2="777.3" stroke="#555" stroke-width="0.6"/>
<line x1="90.36" y1="771.5" x2="90.36" y2="777.3" stroke="#555" stroke-width="0.6"/>
<line x1="92.03" y1="771.5" x2="92.03" y2="777.3" stroke="#555" stroke-width="0.6"/>
<line x1="93.51" y1="771.5" x2="93.51" y2="777.3" stroke="#555" stroke-width="0.6"/>
<line x1="95.23" y1="771.5" x2="95.23" y2="777.3" stroke="#555" stroke-width="0.6"/>
<line x1="96.36" y1="771.5" x2="96.36" y2="777.3" stroke="#555" stroke-width="0.6"/>
<line x1="97.94" y1="771.5" x2="97.94" y2="777.3" stroke="#555" stroke-width="0.6"/>
<line x1="99.13" y1="771.5" x2="99.13" y2="777.3" stroke="#555" stroke-width="0.6"/>
<line x1="100.86" y1="771.5" x2="100.86" y2="777.3" stroke="#555" stroke-width="0.6"/>
<line x1="102.53" y1="771.5" x2="102.53" y2="777.3" stroke="#555" stroke-width="0.6"/>
<line x1="103.33" y1="771.5" x2="103.33" y2="777.3" stroke="#555" stroke-width="0.6"/>
<line x1="104.18" y1="771.5" x2="104.18" y2="777.3" stroke="#555" stroke-width="0.6"/>
<line x1="105.12" y1="771.5" x2="105.12" y2="777.3" stroke="#555" stroke-width="0.6"/>
<line x1="106.89" y1="771.5" x2="106.89" y2="777.3" stroke="#555" stroke-width="0.6"/>
<line x1="108.06" y1="771.5" x2="108.06" y2="777.3" stroke="#555" stroke-width="0.6"/>
<line x1="109.45" y1="771.5" x2="109.45" y2="777.3" stroke="#555" stroke-width="0.6"/>
<line x1="110.49" y1="771.5" x2="110.49" y2="777.3" stroke="#555" stroke-width="0.6"/>
<line x1="111.74" y1="771.5" x2="111.74" y2="777.3" stroke="#555" stroke-width="0.6"/>
<line x1="112.87" y1="771.5" x2="112.87" y2="777.3" stroke="#555" stroke-width="0.6"/>
<line x1="113.95" y1="771.5" x2="113.95" y2="777.3" stroke="#555" stroke-width="0.6"/>
<line x1="115.30" y1="771.5" x2="115.30" y2="777.3" stroke="#555" stroke-width="0.6"/>
<line x1="116.64" y1="771.5" x2="116.64" y2="777.3" stroke="#555" stroke-width="0.6"/>
<path d="M47.20,594.10 L55.20,595.30 L57.50,596.70 L59.30,601.30 L62.80,599.60 L65.90,597.60 L68.00,600.20 L70.90,601.40 L71.50,606.00 L72.10,618.90 L73.30,621.80 L75.60,620.60 L79.70,626.50 L84.40,629.40 L87.30,627.00 L87.60,631.70 L87.90,648.00 L90.20,650.40 L92.00,658.60 L94.30,664.40 L97.20,665.60 L101.90,670.80 L110.00,670.80 L120.00,670.00 L130.00,667.70 L152.20,663.60 L173.00,660.80 L178.50,653.30 L296.40,653.30" fill="none" stroke="#ff0000" stroke-width="2.0" stroke-linejoin="round" stroke-dasharray="1.5 1.13"/>
<path d="M47.30,688.70 L56.10,690.10 L59.00,697.00 L66.30,694.80 L70.70,697.70 L71.40,706.50 L72.80,720.40 L76.50,721.80 L80.90,727.70 L85.30,729.10 L87.40,726.20 L88.20,731.30 L88.90,748.80 L91.80,756.10 L93.30,763.40 L98.40,766.40 L102.00,770.00 L111.50,770.00 L124.70,767.80 L140.00,763.40 L152.20,761.50 L173.00,759.30 L178.50,750.10 L296.40,750.10" fill="none" stroke="#ff0000" stroke-width="2.0" stroke-linejoin="round" stroke-dasharray="1.5 1.13"/>
<path d="M47.20,641.60 L52.30,642.20 L56.40,642.80 L58.10,646.90 L59.90,649.00 L62.80,648.10 L66.30,645.50 L68.60,648.60 L70.90,649.80 L71.50,655.10 L72.10,666.80 L73.90,670.80 L77.40,671.40 L80.90,677.30 L85.00,679.60 L87.30,676.10 L87.90,681.90 L88.90,699.20 L91.10,706.50 L93.30,714.50 L96.90,713.80 L101.30,720.40 L107.20,720.40 L115.90,719.60 L127.60,717.40 L146.60,713.50 L173.00,710.20 L178.50,702.40 L299.20,701.60" fill="none" stroke="#000000" stroke-width="2.5" stroke-linejoin="round" stroke-dasharray="6 4.4"/>
<text x="343.50" y="575.80" font-size="29" fill="#000" text-anchor="start" font-weight="bold">f</text>
<line x1="411.50" y1="567.70" x2="411.50" y2="740.20" stroke="#333" stroke-width="1.0"/>
<line x1="411.70" y1="740.50" x2="664.60" y2="740.50" stroke="#333" stroke-width="1.0"/>
<line x1="408.60" y1="575.50" x2="411.70" y2="575.50" stroke="#333" stroke-width="1.0"/>
<text x="408.00" y="579.00" font-size="10" fill="#333" text-anchor="end" textLength="18.30" lengthAdjust="spacingAndGlyphs">1.00</text>
<line x1="408.60" y1="614.50" x2="411.70" y2="614.50" stroke="#333" stroke-width="1.0"/>
<text x="408.00" y="617.70" font-size="10" fill="#333" text-anchor="end" textLength="18.30" lengthAdjust="spacingAndGlyphs">0.75</text>
<line x1="408.60" y1="653.50" x2="411.70" y2="653.50" stroke="#333" stroke-width="1.0"/>
<text x="408.00" y="657.40" font-size="10" fill="#333" text-anchor="end" textLength="18.30" lengthAdjust="spacingAndGlyphs">0.50</text>
<line x1="408.60" y1="692.50" x2="411.70" y2="692.50" stroke="#333" stroke-width="1.0"/>
<text x="408.00" y="695.90" font-size="10" fill="#333" text-anchor="end" textLength="18.30" lengthAdjust="spacingAndGlyphs">0.25</text>
<line x1="408.60" y1="731.50" x2="411.70" y2="731.50" stroke="#333" stroke-width="1.0"/>
<text x="408.00" y="735.40" font-size="10" fill="#333" text-anchor="end" textLength="18.30" lengthAdjust="spacingAndGlyphs">0.00</text>
<line x1="383.00" y1="575.50" x2="385.20" y2="575.50" stroke="#555" stroke-width="1.0"/>
<line x1="423.50" y1="740.20" x2="423.50" y2="742.50" stroke="#333" stroke-width="1.0"/>
<text x="423.90" y="754.50" font-size="10" fill="#333" text-anchor="middle">0</text>
<line x1="469.50" y1="740.20" x2="469.50" y2="742.50" stroke="#333" stroke-width="1.0"/>
<text x="472.40" y="754.50" font-size="10" fill="#333" text-anchor="middle">250</text>
<line x1="515.50" y1="740.20" x2="515.50" y2="742.50" stroke="#333" stroke-width="1.0"/>
<text x="518.80" y="754.50" font-size="10" fill="#333" text-anchor="middle">500</text>
<line x1="561.50" y1="740.20" x2="561.50" y2="742.50" stroke="#333" stroke-width="1.0"/>
<text x="565.20" y="754.50" font-size="10" fill="#333" text-anchor="middle">750</text>
<line x1="608.50" y1="740.20" x2="608.50" y2="742.50" stroke="#333" stroke-width="1.0"/>
<text x="612.30" y="754.50" font-size="10" fill="#333" text-anchor="middle">1000</text>
<line x1="654.50" y1="740.20" x2="654.50" y2="742.50" stroke="#333" stroke-width="1.0"/>
<text x="658.90" y="754.50" font-size="10" fill="#333" text-anchor="middle">1250</text>
<text x="380.80" y="654.40" font-size="12" fill="#111" text-anchor="middle" textLength="99.00" lengthAdjust="spacingAndGlyphs" transform="rotate(-90 380.80 654.40)">Survival probability</text>
<path d="M423.70,575.50 L426.60,575.50 L426.60,577.60 L431.90,577.60 L433.50,581.00 L435.00,585.00 L437.20,589.50 L455.90,589.50 L455.90,592.20 L460.80,592.20 L460.80,594.80 L464.70,594.80 L464.70,600.90 L482.70,600.90 L482.70,603.50 L488.00,603.50 L488.00,606.70 L507.20,606.70 L507.20,610.20 L510.70,610.20 L510.70,613.70 L529.30,613.70 L529.30,622.20 L549.90,622.20 L549.90,627.60 L653.20,627.60" fill="none" stroke="#00BFC4" stroke-width="1.8" stroke-linejoin="round"/>
<path d="M427.50,575.50 L429.30,577.00 L431.00,579.00 L434.50,581.60 L436.30,584.30 L438.90,586.90 L441.50,589.50 L443.30,592.20 L448.50,592.20 L448.50,593.00 L450.30,599.20 L452.00,607.90 L456.40,607.90 L456.40,612.30 L460.00,612.30 L460.00,614.60 L471.30,614.60 L471.30,617.20 L474.00,617.20 L474.00,620.20 L480.10,620.20 L480.10,623.70 L482.70,623.70 L482.70,628.00 L485.30,628.00 L485.30,632.40 L493.30,632.40 L493.30,634.70 L500.20,634.70 L500.20,638.60 L502.00,638.60 L502.00,643.80 L507.20,643.80 L507.20,645.90 L520.40,645.90 L520.40,649.00 L523.80,649.00 L523.80,653.70 L534.00,653.70 L534.00,656.00 L540.60,656.00 L540.60,658.90 L574.20,658.90 L574.20,664.30 L601.80,664.30 L601.80,681.80 L605.70,681.80 L605.70,707.00 L645.70,707.00" fill="none" stroke="#F8766D" stroke-width="1.8" stroke-linejoin="round"/>
<line x1="470.00" y1="599.40" x2="470.00" y2="602.40" stroke="#00BFC4" stroke-width="0.8"/>
<line x1="476.00" y1="599.40" x2="476.00" y2="602.40" stroke="#00BFC4" stroke-width="0.8"/>
<line x1="492.00" y1="605.20" x2="492.00" y2="608.20" stroke="#00BFC4" stroke-width="0.8"/>
<line x1="500.00" y1="605.20" x2="500.00" y2="608.20" stroke="#00BFC4" stroke-width="0.8"/>
<line x1="557.40" y1="626.10" x2="557.40" y2="629.10" stroke="#00BFC4" stroke-width="0.8"/>
<line x1="559.40" y1="626.10" x2="559.40" y2="629.10" stroke="#00BFC4" stroke-width="0.8"/>
<line x1="561.50" y1="626.10" x2="561.50" y2="629.10" stroke="#00BFC4" stroke-width="0.8"/>
<line x1="562.90" y1="626.10" x2="562.90" y2="629.10" stroke="#00BFC4" stroke-width="0.8"/>
<line x1="564.50" y1="626.10" x2="564.50" y2="629.10" stroke="#00BFC4" stroke-width="0.8"/>
<line x1="580.90" y1="626.10" x2="580.90" y2="629.10" stroke="#00BFC4" stroke-width="0.8"/>
<line x1="588.00" y1="626.10" x2="588.00" y2="629.10" stroke="#00BFC4" stroke-width="0.8"/>
<line x1="592.10" y1="626.10" x2="592.10" y2="629.10" stroke="#00BFC4" stroke-width="0.8"/>
<line x1="597.20" y1="626.10" x2="597.20" y2="629.10" stroke="#00BFC4" stroke-width="0.8"/>
<line x1="598.90" y1="626.10" x2="598.90" y2="629.10" stroke="#00BFC4" stroke-width="0.8"/>
<line x1="602.30" y1="626.10" x2="602.30" y2="629.10" stroke="#00BFC4" stroke-width="0.8"/>
<line x1="606.40" y1="626.10" x2="606.40" y2="629.10" stroke="#00BFC4" stroke-width="0.8"/>
<line x1="611.10" y1="626.10" x2="611.10" y2="629.10" stroke="#00BFC4" stroke-width="0.8"/>
<line x1="625.80" y1="626.10" x2="625.80" y2="629.10" stroke="#00BFC4" stroke-width="0.8"/>
<line x1="644.20" y1="626.10" x2="644.20" y2="629.10" stroke="#00BFC4" stroke-width="0.8"/>
<line x1="653.40" y1="626.10" x2="653.40" y2="629.10" stroke="#00BFC4" stroke-width="0.8"/>
<line x1="543.10" y1="657.40" x2="543.10" y2="660.40" stroke="#F8766D" stroke-width="0.8"/>
<line x1="551.20" y1="657.40" x2="551.20" y2="660.40" stroke="#F8766D" stroke-width="0.8"/>
<line x1="554.70" y1="657.40" x2="554.70" y2="660.40" stroke="#F8766D" stroke-width="0.8"/>
<line x1="565.50" y1="657.40" x2="565.50" y2="660.40" stroke="#F8766D" stroke-width="0.8"/>
<line x1="568.60" y1="657.40" x2="568.60" y2="660.40" stroke="#F8766D" stroke-width="0.8"/>
<line x1="570.70" y1="657.40" x2="570.70" y2="660.40" stroke="#F8766D" stroke-width="0.8"/>
<line x1="581.90" y1="662.80" x2="581.90" y2="665.80" stroke="#F8766D" stroke-width="0.8"/>
<line x1="586.60" y1="662.80" x2="586.60" y2="665.80" stroke="#F8766D" stroke-width="0.8"/>
<line x1="589.00" y1="662.80" x2="589.00" y2="665.80" stroke="#F8766D" stroke-width="0.8"/>
<line x1="592.10" y1="662.80" x2="592.10" y2="665.80" stroke="#F8766D" stroke-width="0.8"/>
<line x1="594.20" y1="662.80" x2="594.20" y2="665.80" stroke="#F8766D" stroke-width="0.8"/>
<line x1="596.20" y1="662.80" x2="596.20" y2="665.80" stroke="#F8766D" stroke-width="0.8"/>
<line x1="645.30" y1="705.50" x2="645.30" y2="708.50" stroke="#F8766D" stroke-width="0.8"/>
<text x="411.80" y="765.80" font-size="10" fill="#111" text-anchor="start" textLength="58.00" lengthAdjust="spacingAndGlyphs">Number at risk</text>
<line x1="411.50" y1="769.80" x2="411.50" y2="811.20" stroke="#333" stroke-width="1.0"/>
<line x1="411.50" y1="811.50" x2="664.60" y2="811.50" stroke="#333" stroke-width="1.0"/>
<line x1="423.50" y1="811.50" x2="423.50" y2="814.00" stroke="#333" stroke-width="1.0"/>
<text x="423.90" y="821.40" font-size="10" fill="#333" text-anchor="middle">0</text>
<line x1="469.50" y1="811.50" x2="469.50" y2="814.00" stroke="#333" stroke-width="1.0"/>
<text x="472.40" y="821.40" font-size="10" fill="#333" text-anchor="middle">250</text>
<line x1="515.50" y1="811.50" x2="515.50" y2="814.00" stroke="#333" stroke-width="1.0"/>
<text x="518.80" y="821.40" font-size="10" fill="#333" text-anchor="middle">500</text>
<line x1="561.50" y1="811.50" x2="561.50" y2="814.00" stroke="#333" stroke-width="1.0"/>
<text x="565.20" y="821.40" font-size="10" fill="#333" text-anchor="middle">750</text>
<line x1="608.50" y1="811.50" x2="608.50" y2="814.00" stroke="#333" stroke-width="1.0"/>
<text x="612.30" y="821.40" font-size="10" fill="#333" text-anchor="middle">1000</text>
<line x1="654.50" y1="811.50" x2="654.50" y2="814.00" stroke="#333" stroke-width="1.0"/>
<text x="658.90" y="821.40" font-size="10" fill="#333" text-anchor="middle">1250</text>
<line x1="409.80" y1="780.50" x2="411.50" y2="780.50" stroke="#333" stroke-width="1.0"/>
<line x1="409.80" y1="799.50" x2="411.50" y2="799.50" stroke="#333" stroke-width="1.0"/>
<text x="424.60" y="782.90" font-size="10" fill="#222" text-anchor="middle">80</text>
<text x="470.80" y="782.90" font-size="10" fill="#222" text-anchor="middle">60</text>
<text x="517.20" y="782.90" font-size="10" fill="#222" text-anchor="middle">37</text>
<text x="562.40" y="782.90" font-size="10" fill="#222" text-anchor="middle">22</text>
<text x="608.40" y="782.90" font-size="10" fill="#222" text-anchor="middle">1</text>
<text x="655.10" y="782.90" font-size="10" fill="#222" text-anchor="middle">0</text>
<text x="424.60" y="801.60" font-size="10" fill="#222" text-anchor="middle">56</text>
<text x="470.80" y="801.60" font-size="10" fill="#222" text-anchor="middle">44</text>
<text x="517.20" y="801.60" font-size="10" fill="#222" text-anchor="middle">31</text>
<text x="562.40" y="801.60" font-size="10" fill="#222" text-anchor="middle">18</text>
<text x="608.40" y="801.60" font-size="10" fill="#222" text-anchor="middle">5</text>
<text x="655.10" y="801.60" font-size="10" fill="#222" text-anchor="middle">0</text>
<text x="365.10" y="777.60" font-size="8.3" fill="#F8766D" text-anchor="start" textLength="38.80" lengthAdjust="spacingAndGlyphs">Creatinine</text>
<text x="363.80" y="786.90" font-size="8.3" fill="#F8766D" text-anchor="start" textLength="44.30" lengthAdjust="spacingAndGlyphs">&lt; 0.9 mg/dL</text>
<text x="363.50" y="799.90" font-size="8.3" fill="#00BFC4" text-anchor="start" textLength="38.80" lengthAdjust="spacingAndGlyphs">Creatinine</text>
<text x="358.10" y="809.50" font-size="8.3" fill="#00BFC4" text-anchor="start" textLength="50.00" lengthAdjust="spacingAndGlyphs">&gt;= 0.9 mg/dL</text>
<text x="551.70" y="841.50" font-size="11" fill="#111" text-anchor="middle" textLength="56.00" lengthAdjust="spacingAndGlyphs">Time (Days)</text>
<text x="2.50" y="852.00" font-size="28" fill="#000" text-anchor="start" font-weight="bold">g</text>
<rect x="29.80" y="860.80" width="92.40" height="12.60" fill="#cccccc"/>
<text x="45.10" y="871.10" font-size="7.8" fill="#1a1a1a" text-anchor="start" textLength="57.30" lengthAdjust="spacingAndGlyphs">BMI &lt; 25 kg/m</text>
<text x="102.70" y="866.50" font-size="5.5" fill="#1a1a1a" text-anchor="start">2</text>
<rect x="124.80" y="860.80" width="92.90" height="12.60" fill="#cccccc"/>
<text x="127.60" y="871.10" font-size="7.8" fill="#1a1a1a" text-anchor="start" textLength="77.00" lengthAdjust="spacingAndGlyphs">BMI 25 to &lt;35 kg/m</text>
<text x="204.90" y="866.50" font-size="5.5" fill="#1a1a1a" text-anchor="start">2</text>
<rect x="220.30" y="860.80" width="92.20" height="12.60" fill="#cccccc"/>
<text x="228.20" y="871.10" font-size="7.8" fill="#1a1a1a" text-anchor="start" textLength="62.80" lengthAdjust="spacingAndGlyphs">BMI &gt;= 35 kg/m</text>
<text x="291.30" y="866.50" font-size="5.5" fill="#1a1a1a" text-anchor="start">2</text>
<rect x="313.60" y="874.50" width="12.20" height="77.60" fill="#cccccc"/>
<rect x="313.60" y="954.20" width="12.20" height="77.80" fill="#cccccc"/>
<text x="317.20" y="921.80" font-size="8.5" fill="#1a1a1a" text-anchor="middle" textLength="33.00" lengthAdjust="spacingAndGlyphs" transform="rotate(90 317.20 921.80)">Females</text>
<text x="317.20" y="990.00" font-size="8.5" fill="#1a1a1a" text-anchor="middle" textLength="22.00" lengthAdjust="spacingAndGlyphs" transform="rotate(90 317.20 990.00)">Males</text>
<line x1="29.50" y1="873.60" x2="29.50" y2="952.00" stroke="#333" stroke-width="1.0"/>
<line x1="29.50" y1="954.60" x2="29.50" y2="1032.30" stroke="#333" stroke-width="1.0"/>
<line x1="28.00" y1="887.50" x2="29.70" y2="887.50" stroke="#333" stroke-width="1.0"/>
<text x="21.20" y="891.10" font-size="9.5" fill="#333" text-anchor="middle">3</text>
<line x1="28.00" y1="908.50" x2="29.70" y2="908.50" stroke="#333" stroke-width="1.0"/>
<text x="21.20" y="911.30" font-size="9.5" fill="#333" text-anchor="middle">2</text>
<line x1="28.00" y1="928.50" x2="29.70" y2="928.50" stroke="#333" stroke-width="1.0"/>
<text x="21.20" y="931.30" font-size="9.5" fill="#333" text-anchor="middle">1</text>
<line x1="28.00" y1="948.50" x2="29.70" y2="948.50" stroke="#333" stroke-width="1.0"/>
<text x="21.20" y="951.60" font-size="9.5" fill="#333" text-anchor="middle">0</text>
<line x1="28.00" y1="967.50" x2="29.70" y2="967.50" stroke="#333" stroke-width="1.0"/>
<text x="22.30" y="970.90" font-size="9.5" fill="#333" text-anchor="middle">3.</text>
<line x1="28.00" y1="987.50" x2="29.70" y2="987.50" stroke="#333" stroke-width="1.0"/>
<text x="21.20" y="990.90" font-size="9.5" fill="#333" text-anchor="middle">2</text>
<line x1="28.00" y1="1007.50" x2="29.70" y2="1007.50" stroke="#333" stroke-width="1.0"/>
<text x="21.20" y="1011.20" font-size="9.5" fill="#333" text-anchor="middle">1</text>
<line x1="28.00" y1="1028.50" x2="29.70" y2="1028.50" stroke="#333" stroke-width="1.0"/>
<text x="21.20" y="1031.40" font-size="9.5" fill="#333" text-anchor="middle">0</text>
<text x="8.60" y="942.00" font-size="10.5" fill="#111" text-anchor="middle" textLength="36.00" lengthAdjust="spacingAndGlyphs" transform="rotate(-90 8.60 942.00)">Density</text>
<line x1="29.50" y1="1032.00" x2="121.50" y2="1032.00" stroke="#333" stroke-width="1.6"/>
<line x1="124.50" y1="1032.00" x2="217.50" y2="1032.00" stroke="#333" stroke-width="1.6"/>
<line x1="220.50" y1="1032.00" x2="311.60" y2="1032.00" stroke="#333" stroke-width="1.6"/>
<line x1="52.50" y1="1032.50" x2="52.50" y2="1034.50" stroke="#333" stroke-width="1.0"/>
<text x="52.10" y="1042.80" font-size="9.5" fill="#333" text-anchor="middle">1</text>
<line x1="82.50" y1="1032.50" x2="82.50" y2="1034.50" stroke="#333" stroke-width="1.0"/>
<text x="82.90" y="1042.80" font-size="9.5" fill="#333" text-anchor="middle">2</text>
<line x1="113.50" y1="1032.50" x2="113.50" y2="1034.50" stroke="#333" stroke-width="1.0"/>
<text x="113.70" y="1042.80" font-size="9.5" fill="#333" text-anchor="middle">3</text>
<line x1="147.50" y1="1032.50" x2="147.50" y2="1034.50" stroke="#333" stroke-width="1.0"/>
<text x="147.10" y="1042.80" font-size="9.5" fill="#333" text-anchor="middle">1</text>
<line x1="177.50" y1="1032.50" x2="177.50" y2="1034.50" stroke="#333" stroke-width="1.0"/>
<text x="177.90" y="1042.80" font-size="9.5" fill="#333" text-anchor="middle">2</text>
<line x1="208.50" y1="1032.50" x2="208.50" y2="1034.50" stroke="#333" stroke-width="1.0"/>
<text x="208.70" y="1042.80" font-size="9.5" fill="#333" text-anchor="middle">3</text>
<line x1="242.50" y1="1032.50" x2="242.50" y2="1034.50" stroke="#333" stroke-width="1.0"/>
<text x="242.10" y="1042.80" font-size="9.5" fill="#333" text-anchor="middle">1</text>
<line x1="272.50" y1="1032.50" x2="272.50" y2="1034.50" stroke="#333" stroke-width="1.0"/>
<text x="272.90" y="1042.80" font-size="9.5" fill="#333" text-anchor="middle">2</text>
<line x1="303.50" y1="1032.50" x2="303.50" y2="1034.50" stroke="#333" stroke-width="1.0"/>
<text x="303.70" y="1042.80" font-size="9.5" fill="#333" text-anchor="middle">3</text>
<text x="185.00" y="1065.30" font-size="12" fill="#111" text-anchor="middle" textLength="124.00" lengthAdjust="spacingAndGlyphs">Serum Creatinine (mg/dL)</text>
<path d="M33.80,948.50 L33.80,937.90 C34.17,936.07 35.27,932.38 36.00,926.90 C36.73,921.42 37.40,912.12 38.20,905.00 C39.00,897.88 40.07,886.38 40.80,884.20 C41.53,882.02 41.93,887.70 42.60,891.90 C43.27,896.10 44.20,905.50 44.80,909.40 C45.40,913.30 45.72,912.13 46.20,915.30 C46.68,918.47 47.08,923.53 47.70,928.40 C48.32,933.27 49.28,941.15 49.90,944.50 C50.52,947.85 50.80,948.02 51.40,948.50 C52.00,948.50 52.58,948.50 53.50,947.40 C54.42,946.18 55.92,941.57 56.90,941.20 C57.88,940.83 58.62,943.98 59.40,945.20 C60.18,946.42 61.23,947.95 61.60,948.50 L118.20,948.50 L33.80,948.50 Z" fill="#0000ff" stroke="none"/>
<path d="M33.80,948.50 L33.80,937.90 C34.17,936.07 35.27,932.38 36.00,926.90 C36.73,921.42 37.40,912.12 38.20,905.00 C39.00,897.88 40.07,886.38 40.80,884.20 C41.53,882.02 41.93,887.70 42.60,891.90 C43.27,896.10 44.20,905.50 44.80,909.40 C45.40,913.30 45.72,912.13 46.20,915.30 C46.68,918.47 47.08,923.53 47.70,928.40 C48.32,933.27 49.28,941.15 49.90,944.50 C50.52,947.85 50.80,948.02 51.40,948.50 C52.00,948.50 52.58,948.50 53.50,947.40 C54.42,946.18 55.92,941.57 56.90,941.20 C57.88,940.83 58.62,943.98 59.40,945.20 C60.18,946.42 61.23,947.95 61.60,948.50 L118.20,948.50" fill="none" stroke="#111" stroke-width="1.1" stroke-linejoin="round"/>
<path d="M129.10,948.50 L130.60,932.80 C130.97,930.85 131.83,927.80 132.80,921.10 C133.77,914.40 135.43,896.87 136.40,892.60 C137.37,888.33 137.93,894.03 138.60,895.50 C139.27,896.97 139.80,897.62 140.40,901.40 C141.00,905.18 141.65,912.73 142.20,918.20 C142.75,923.67 143.08,931.17 143.70,934.20 C144.32,937.23 145.28,935.78 145.90,936.40 C146.52,937.02 146.55,935.92 147.40,937.90 C148.25,939.88 140.67,946.53 151.00,948.30 L209.40,948.50 C219.78,947.62 212.65,943.00 213.30,943.00 C213.95,943.00 213.30,947.58 213.30,948.50 L213.30,948.50 L129.10,948.50 Z" fill="#0000ff" stroke="none"/>
<path d="M129.10,948.50 L130.60,932.80 C130.97,930.85 131.83,927.80 132.80,921.10 C133.77,914.40 135.43,896.87 136.40,892.60 C137.37,888.33 137.93,894.03 138.60,895.50 C139.27,896.97 139.80,897.62 140.40,901.40 C141.00,905.18 141.65,912.73 142.20,918.20 C142.75,923.67 143.08,931.17 143.70,934.20 C144.32,937.23 145.28,935.78 145.90,936.40 C146.52,937.02 146.55,935.92 147.40,937.90 C148.25,939.88 140.67,946.53 151.00,948.30 L209.40,948.50 C219.78,947.62 212.65,943.00 213.30,943.00 C213.95,943.00 213.30,947.58 213.30,948.50 L213.30,948.50" fill="none" stroke="#111" stroke-width="1.1" stroke-linejoin="round"/>
<path d="M223.80,948.50 L226.00,935.70 C226.37,931.57 227.30,920.52 228.20,910.90 C229.10,901.28 230.55,882.13 231.40,878.00 C232.25,873.87 232.62,881.60 233.30,886.10 C233.98,890.60 234.88,899.65 235.50,905.00 C236.12,910.35 236.52,913.08 237.00,918.20 C237.48,923.32 237.87,930.83 238.40,935.70 C238.93,940.57 239.58,946.43 240.20,947.40 C240.82,948.37 241.47,943.65 242.10,941.50 C242.73,939.35 243.35,934.50 244.00,934.50 C244.65,934.50 245.35,939.17 246.00,941.50 C246.65,943.83 247.58,947.33 247.90,948.50 L308.50,948.50 L223.80,948.50 Z" fill="#0000ff" stroke="none"/>
<path d="M223.80,948.50 L226.00,935.70 C226.37,931.57 227.30,920.52 228.20,910.90 C229.10,901.28 230.55,882.13 231.40,878.00 C232.25,873.87 232.62,881.60 233.30,886.10 C233.98,890.60 234.88,899.65 235.50,905.00 C236.12,910.35 236.52,913.08 237.00,918.20 C237.48,923.32 237.87,930.83 238.40,935.70 C238.93,940.57 239.58,946.43 240.20,947.40 C240.82,948.37 241.47,943.65 242.10,941.50 C242.73,939.35 243.35,934.50 244.00,934.50 C244.65,934.50 245.35,939.17 246.00,941.50 C246.65,943.83 247.58,947.33 247.90,948.50 L308.50,948.50" fill="none" stroke="#111" stroke-width="1.1" stroke-linejoin="round"/>
<path d="M33.80,1028.40 L34.10,1023.70 C34.55,1022.62 35.63,1019.75 36.80,1017.20 C37.97,1014.65 39.88,1011.57 41.10,1008.40 C42.32,1005.23 43.25,1000.63 44.10,998.20 C44.95,995.77 44.98,994.58 46.20,993.80 C47.42,993.02 50.10,993.25 51.40,993.50 C52.70,993.75 53.15,992.82 54.00,995.30 C54.85,997.78 55.60,1004.03 56.50,1008.40 C57.40,1012.77 58.32,1018.22 59.40,1021.50 C60.48,1024.78 62.40,1027.00 63.00,1028.10 L118.20,1028.40 L33.80,1028.40 Z" fill="#0000ff" stroke="none"/>
<path d="M33.80,1028.40 L34.10,1023.70 C34.55,1022.62 35.63,1019.75 36.80,1017.20 C37.97,1014.65 39.88,1011.57 41.10,1008.40 C42.32,1005.23 43.25,1000.63 44.10,998.20 C44.95,995.77 44.98,994.58 46.20,993.80 C47.42,993.02 50.10,993.25 51.40,993.50 C52.70,993.75 53.15,992.82 54.00,995.30 C54.85,997.78 55.60,1004.03 56.50,1008.40 C57.40,1012.77 58.32,1018.22 59.40,1021.50 C60.48,1024.78 62.40,1027.00 63.00,1028.10 L118.20,1028.40" fill="none" stroke="#111" stroke-width="1.1" stroke-linejoin="round"/>
<path d="M129.10,1028.40 L132.80,1024.50 C133.28,1022.55 134.73,1017.18 135.70,1012.80 C136.67,1008.42 137.52,1002.33 138.60,998.20 C139.68,994.07 141.23,990.57 142.20,988.00 C143.17,985.43 143.67,982.93 144.40,982.80 C145.13,982.67 145.87,983.90 146.60,987.20 C147.33,990.50 148.07,998.58 148.80,1002.60 C149.53,1006.62 150.02,1008.15 151.00,1011.30 C151.98,1014.45 153.23,1018.95 154.70,1021.50 C156.17,1024.05 158.47,1025.87 159.80,1026.60 C161.13,1027.33 161.62,1025.65 162.70,1025.90 C163.78,1026.15 164.60,1028.05 166.30,1028.10 C168.00,1028.15 171.18,1026.15 172.90,1026.20 C174.62,1026.25 172.47,1028.03 176.60,1028.40 L197.70,1028.40 C201.78,1028.03 200.00,1026.20 201.10,1026.20 C202.20,1026.20 203.77,1028.03 204.30,1028.40 L213.30,1028.40 L129.10,1028.40 Z" fill="#0000ff" stroke="none"/>
<path d="M129.10,1028.40 L132.80,1024.50 C133.28,1022.55 134.73,1017.18 135.70,1012.80 C136.67,1008.42 137.52,1002.33 138.60,998.20 C139.68,994.07 141.23,990.57 142.20,988.00 C143.17,985.43 143.67,982.93 144.40,982.80 C145.13,982.67 145.87,983.90 146.60,987.20 C147.33,990.50 148.07,998.58 148.80,1002.60 C149.53,1006.62 150.02,1008.15 151.00,1011.30 C151.98,1014.45 153.23,1018.95 154.70,1021.50 C156.17,1024.05 158.47,1025.87 159.80,1026.60 C161.13,1027.33 161.62,1025.65 162.70,1025.90 C163.78,1026.15 164.60,1028.05 166.30,1028.10 C168.00,1028.15 171.18,1026.15 172.90,1026.20 C174.62,1026.25 172.47,1028.03 176.60,1028.40 L197.70,1028.40 C201.78,1028.03 200.00,1026.20 201.10,1026.20 C202.20,1026.20 203.77,1028.03 204.30,1028.40 L213.30,1028.40" fill="none" stroke="#111" stroke-width="1.1" stroke-linejoin="round"/>
<path d="M223.80,1028.40 L224.10,1026.20 C225.03,1025.55 228.03,1023.57 229.70,1022.30 C231.37,1021.03 232.52,1019.45 234.10,1018.60 C235.68,1017.75 237.63,1017.40 239.20,1017.20 C240.77,1017.00 242.05,1017.22 243.50,1017.40 C244.95,1017.58 246.32,1018.58 247.90,1018.30 C249.48,1018.02 251.42,1016.87 253.00,1015.70 C254.58,1014.53 255.93,1012.27 257.40,1011.30 C258.87,1010.33 260.33,1009.90 261.80,1009.90 C263.27,1009.90 264.73,1010.33 266.20,1011.30 C267.67,1012.27 269.02,1013.87 270.60,1015.70 C272.18,1017.53 274.00,1020.48 275.70,1022.30 C277.40,1024.12 278.98,1025.58 280.80,1026.60 C282.62,1027.62 285.63,1028.10 286.60,1028.40 L308.50,1028.40 L223.80,1028.40 Z" fill="#0000ff" stroke="none"/>
<path d="M223.80,1028.40 L224.10,1026.20 C225.03,1025.55 228.03,1023.57 229.70,1022.30 C231.37,1021.03 232.52,1019.45 234.10,1018.60 C235.68,1017.75 237.63,1017.40 239.20,1017.20 C240.77,1017.00 242.05,1017.22 243.50,1017.40 C244.95,1017.58 246.32,1018.58 247.90,1018.30 C249.48,1018.02 251.42,1016.87 253.00,1015.70 C254.58,1014.53 255.93,1012.27 257.40,1011.30 C258.87,1010.33 260.33,1009.90 261.80,1009.90 C263.27,1009.90 264.73,1010.33 266.20,1011.30 C267.67,1012.27 269.02,1013.87 270.60,1015.70 C272.18,1017.53 274.00,1020.48 275.70,1022.30 C277.40,1024.12 278.98,1025.58 280.80,1026.60 C282.62,1027.62 285.63,1028.10 286.60,1028.40 L308.50,1028.40" fill="none" stroke="#111" stroke-width="1.1" stroke-linejoin="round"/>
<line x1="47.40" y1="874.30" x2="47.40" y2="951.50" stroke="#ff0000" stroke-width="2.4" stroke-dasharray="7.5 7.4" stroke-dashoffset="5"/>
<line x1="47.40" y1="954.50" x2="47.40" y2="1031.50" stroke="#ff0000" stroke-width="2.4" stroke-dasharray="7.5 7.4" stroke-dashoffset="5"/>
<line x1="142.60" y1="874.30" x2="142.60" y2="951.50" stroke="#ff0000" stroke-width="2.4" stroke-dasharray="7.5 7.4" stroke-dashoffset="5"/>
<line x1="142.60" y1="954.50" x2="142.60" y2="1031.50" stroke="#ff0000" stroke-width="2.4" stroke-dasharray="7.5 7.4" stroke-dashoffset="5"/>
<line x1="237.70" y1="874.30" x2="237.70" y2="951.50" stroke="#ff0000" stroke-width="2.4" stroke-dasharray="7.5 7.4" stroke-dashoffset="5"/>
<line x1="237.70" y1="954.50" x2="237.70" y2="1031.50" stroke="#ff0000" stroke-width="2.4" stroke-dasharray="7.5 7.4" stroke-dashoffset="5"/>
<text x="343.50" y="852.30" font-size="26" fill="#000" text-anchor="start" font-weight="bold">h</text>
<line x1="413.50" y1="862.30" x2="413.50" y2="1016.50" stroke="#333" stroke-width="1.0"/>
<line x1="413.70" y1="1016.50" x2="670.80" y2="1016.50" stroke="#333" stroke-width="1.0"/>
<line x1="410.60" y1="869.50" x2="413.70" y2="869.50" stroke="#333" stroke-width="1.0"/>
<text x="408.00" y="872.80" font-size="10" fill="#333" text-anchor="end" textLength="18.30" lengthAdjust="spacingAndGlyphs">1.00</text>
<line x1="410.60" y1="904.50" x2="413.70" y2="904.50" stroke="#333" stroke-width="1.0"/>
<text x="408.00" y="907.80" font-size="10" fill="#333" text-anchor="end" textLength="18.30" lengthAdjust="spacingAndGlyphs">0.75</text>
<line x1="410.60" y1="939.50" x2="413.70" y2="939.50" stroke="#333" stroke-width="1.0"/>
<text x="408.00" y="942.80" font-size="10" fill="#333" text-anchor="end" textLength="18.30" lengthAdjust="spacingAndGlyphs">0.50</text>
<line x1="410.60" y1="974.50" x2="413.70" y2="974.50" stroke="#333" stroke-width="1.0"/>
<text x="408.00" y="977.80" font-size="10" fill="#333" text-anchor="end" textLength="18.30" lengthAdjust="spacingAndGlyphs">0.25</text>
<line x1="410.60" y1="1009.50" x2="413.70" y2="1009.50" stroke="#333" stroke-width="1.0"/>
<text x="408.00" y="1012.80" font-size="10" fill="#333" text-anchor="end" textLength="18.30" lengthAdjust="spacingAndGlyphs">0.00</text>
<line x1="425.50" y1="1016.10" x2="425.50" y2="1019.00" stroke="#333" stroke-width="1.0"/>
<text x="426.30" y="1029.50" font-size="10" fill="#333" text-anchor="middle">0</text>
<line x1="472.50" y1="1016.10" x2="472.50" y2="1019.00" stroke="#333" stroke-width="1.0"/>
<text x="476.20" y="1029.50" font-size="10" fill="#333" text-anchor="middle">250</text>
<line x1="519.50" y1="1016.10" x2="519.50" y2="1019.00" stroke="#333" stroke-width="1.0"/>
<text x="523.60" y="1029.50" font-size="10" fill="#333" text-anchor="middle">500</text>
<line x1="566.50" y1="1016.10" x2="566.50" y2="1019.00" stroke="#333" stroke-width="1.0"/>
<text x="571.60" y="1029.50" font-size="10" fill="#333" text-anchor="middle">750</text>
<line x1="613.50" y1="1016.10" x2="613.50" y2="1019.00" stroke="#333" stroke-width="1.0"/>
<text x="620.20" y="1029.50" font-size="10" fill="#333" text-anchor="middle">1000</text>
<line x1="660.50" y1="1016.10" x2="660.50" y2="1019.00" stroke="#333" stroke-width="1.0"/>
<text x="666.90" y="1029.50" font-size="10" fill="#333" text-anchor="middle">1250</text>
<text x="380.50" y="945.80" font-size="12" fill="#111" text-anchor="middle" textLength="99.80" lengthAdjust="spacingAndGlyphs" transform="rotate(-90 380.50 945.80)">Survival probability</text>
<path d="M425.10,869.20 L491.50,869.20 L491.50,889.60 L659.70,889.60" fill="none" stroke="#00BFC4" stroke-width="1.9" stroke-linejoin="round"/>
<path d="M425.10,869.20 L428.20,870.20 L431.20,872.30 L433.30,875.30 L436.30,879.40 L439.40,883.50 L457.80,883.50 L457.80,885.50 L463.90,885.50 L463.90,888.60 L466.00,888.60 L466.00,890.70 L468.00,890.70 L468.00,895.80 L485.40,895.80 L485.40,898.40 L510.90,898.40 L510.90,901.90 L514.00,901.90 L514.00,905.40 L532.40,905.40 L532.40,913.50 L553.90,913.50 L553.90,919.10 L649.80,919.10" fill="none" stroke="#C77CFF" stroke-width="1.9" stroke-linejoin="round"/>
<path d="M425.10,869.20 L428.20,870.20 L434.30,874.30 L437.40,874.30 L439.40,879.40 L441.50,888.60 L453.70,888.60 L453.70,897.80 L458.80,897.80 L458.80,902.90 L463.90,902.90 L463.90,908.00 L484.40,908.00 L484.40,913.50 L488.50,913.50 L488.50,918.90 L502.80,918.90 L502.80,923.80 L527.50,923.80 L527.50,930.30 L538.10,930.30 L538.10,937.50 L578.80,937.50 L578.80,949.30 L651.90,949.30" fill="none" stroke="#7CAE00" stroke-width="1.9" stroke-linejoin="round"/>
<path d="M425.10,869.20 L432.30,872.30 L439.40,877.40 L444.50,877.40 L446.60,882.50 L450.70,883.50 L451.70,888.60 L453.70,897.80 L455.80,899.90 L459.90,901.90 L474.20,901.90 L474.20,904.60 L477.20,904.60 L477.20,909.00 L482.30,909.00 L482.30,913.10 L485.40,913.10 L485.40,917.20 L488.50,917.20 L488.50,921.30 L496.60,921.30 L496.60,925.00 L503.80,925.00 L503.80,929.50 L505.80,929.50 L505.80,936.60 L524.20,936.60 L524.20,940.70 L529.30,940.70 L529.30,943.80 L544.70,943.80 L544.70,948.00 L606.40,948.00 L606.40,978.70 L610.40,978.70 L610.40,1009.00" fill="none" stroke="#F8766D" stroke-width="1.9" stroke-linejoin="round"/>
<line x1="507.90" y1="888.10" x2="507.90" y2="891.10" stroke="#00BFC4" stroke-width="0.8"/>
<line x1="511.80" y1="888.10" x2="511.80" y2="891.10" stroke="#00BFC4" stroke-width="0.8"/>
<line x1="515.80" y1="888.10" x2="515.80" y2="891.10" stroke="#00BFC4" stroke-width="0.8"/>
<line x1="532.80" y1="888.10" x2="532.80" y2="891.10" stroke="#00BFC4" stroke-width="0.8"/>
<line x1="605.10" y1="888.10" x2="605.10" y2="891.10" stroke="#00BFC4" stroke-width="0.8"/>
<line x1="518.40" y1="903.90" x2="518.40" y2="906.90" stroke="#C77CFF" stroke-width="0.8"/>
<line x1="526.30" y1="903.90" x2="526.30" y2="906.90" stroke="#C77CFF" stroke-width="0.8"/>
<line x1="539.40" y1="912.00" x2="539.40" y2="915.00" stroke="#C77CFF" stroke-width="0.8"/>
<line x1="543.40" y1="912.00" x2="543.40" y2="915.00" stroke="#C77CFF" stroke-width="0.8"/>
<line x1="547.30" y1="912.00" x2="547.30" y2="915.00" stroke="#C77CFF" stroke-width="0.8"/>
<line x1="561.70" y1="917.60" x2="561.70" y2="920.60" stroke="#C77CFF" stroke-width="0.8"/>
<line x1="567.00" y1="917.60" x2="567.00" y2="920.60" stroke="#C77CFF" stroke-width="0.8"/>
<line x1="572.30" y1="917.60" x2="572.30" y2="920.60" stroke="#C77CFF" stroke-width="0.8"/>
<line x1="581.50" y1="917.60" x2="581.50" y2="920.60" stroke="#C77CFF" stroke-width="0.8"/>
<line x1="586.70" y1="917.60" x2="586.70" y2="920.60" stroke="#C77CFF" stroke-width="0.8"/>
<line x1="592.00" y1="917.60" x2="592.00" y2="920.60" stroke="#C77CFF" stroke-width="0.8"/>
<line x1="598.50" y1="917.60" x2="598.50" y2="920.60" stroke="#C77CFF" stroke-width="0.8"/>
<line x1="603.80" y1="917.60" x2="603.80" y2="920.60" stroke="#C77CFF" stroke-width="0.8"/>
<line x1="610.40" y1="917.60" x2="610.40" y2="920.60" stroke="#C77CFF" stroke-width="0.8"/>
<line x1="615.60" y1="917.60" x2="615.60" y2="920.60" stroke="#C77CFF" stroke-width="0.8"/>
<line x1="623.50" y1="917.60" x2="623.50" y2="920.60" stroke="#C77CFF" stroke-width="0.8"/>
<line x1="631.40" y1="917.60" x2="631.40" y2="920.60" stroke="#C77CFF" stroke-width="0.8"/>
<line x1="511.80" y1="922.30" x2="511.80" y2="925.30" stroke="#7CAE00" stroke-width="0.8"/>
<line x1="517.10" y1="922.30" x2="517.10" y2="925.30" stroke="#7CAE00" stroke-width="0.8"/>
<line x1="522.30" y1="922.30" x2="522.30" y2="925.30" stroke="#7CAE00" stroke-width="0.8"/>
<line x1="555.20" y1="936.00" x2="555.20" y2="939.00" stroke="#7CAE00" stroke-width="0.8"/>
<line x1="568.30" y1="936.00" x2="568.30" y2="939.00" stroke="#7CAE00" stroke-width="0.8"/>
<line x1="570.90" y1="936.00" x2="570.90" y2="939.00" stroke="#7CAE00" stroke-width="0.8"/>
<line x1="590.60" y1="947.80" x2="590.60" y2="950.80" stroke="#7CAE00" stroke-width="0.8"/>
<line x1="610.40" y1="947.80" x2="610.40" y2="950.80" stroke="#7CAE00" stroke-width="0.8"/>
<line x1="631.40" y1="947.80" x2="631.40" y2="950.80" stroke="#7CAE00" stroke-width="0.8"/>
<line x1="651.90" y1="947.80" x2="651.90" y2="950.80" stroke="#7CAE00" stroke-width="0.8"/>
<line x1="507.90" y1="935.10" x2="507.90" y2="938.10" stroke="#F8766D" stroke-width="0.8"/>
<line x1="515.80" y1="935.10" x2="515.80" y2="938.10" stroke="#F8766D" stroke-width="0.8"/>
<line x1="552.50" y1="946.50" x2="552.50" y2="949.50" stroke="#F8766D" stroke-width="0.8"/>
<line x1="557.80" y1="946.50" x2="557.80" y2="949.50" stroke="#F8766D" stroke-width="0.8"/>
<line x1="569.60" y1="946.50" x2="569.60" y2="949.50" stroke="#F8766D" stroke-width="0.8"/>
<line x1="586.70" y1="946.50" x2="586.70" y2="949.50" stroke="#F8766D" stroke-width="0.8"/>
<line x1="592.00" y1="946.50" x2="592.00" y2="949.50" stroke="#F8766D" stroke-width="0.8"/>
<line x1="597.20" y1="946.50" x2="597.20" y2="949.50" stroke="#F8766D" stroke-width="0.8"/>
<line x1="601.20" y1="946.50" x2="601.20" y2="949.50" stroke="#F8766D" stroke-width="0.8"/>
<line x1="603.80" y1="946.50" x2="603.80" y2="949.50" stroke="#F8766D" stroke-width="0.8"/>
<text x="413.50" y="1039.50" font-size="10" fill="#111" text-anchor="start" textLength="57.50" lengthAdjust="spacingAndGlyphs">Number at risk</text>
<line x1="412.50" y1="1043.50" x2="412.50" y2="1080.50" stroke="#333" stroke-width="1.0"/>
<line x1="412.60" y1="1080.50" x2="670.80" y2="1080.50" stroke="#333" stroke-width="1.0"/>
<line x1="411.00" y1="1048.50" x2="412.60" y2="1048.50" stroke="#333" stroke-width="1.0"/>
<text x="425.90" y="1051.50" font-size="9.5" fill="#222" text-anchor="middle" textLength="9.00" lengthAdjust="spacingAndGlyphs">51</text>
<text x="474.00" y="1051.50" font-size="9.5" fill="#222" text-anchor="middle" textLength="9.00" lengthAdjust="spacingAndGlyphs">39</text>
<text x="521.00" y="1051.50" font-size="9.5" fill="#222" text-anchor="middle" textLength="9.00" lengthAdjust="spacingAndGlyphs">23</text>
<text x="568.90" y="1051.50" font-size="9.5" fill="#222" text-anchor="middle" textLength="9.00" lengthAdjust="spacingAndGlyphs">13</text>
<text x="614.80" y="1051.50" font-size="9.5" fill="#222" text-anchor="middle" textLength="4.50" lengthAdjust="spacingAndGlyphs">0</text>
<text x="661.50" y="1051.50" font-size="9.5" fill="#222" text-anchor="middle" textLength="4.50" lengthAdjust="spacingAndGlyphs">0</text>
<line x1="411.00" y1="1057.50" x2="412.60" y2="1057.50" stroke="#333" stroke-width="1.0"/>
<text x="425.90" y="1060.40" font-size="9.5" fill="#222" text-anchor="middle" textLength="9.00" lengthAdjust="spacingAndGlyphs">29</text>
<text x="474.00" y="1060.40" font-size="9.5" fill="#222" text-anchor="middle" textLength="9.00" lengthAdjust="spacingAndGlyphs">21</text>
<text x="521.00" y="1060.40" font-size="9.5" fill="#222" text-anchor="middle" textLength="9.00" lengthAdjust="spacingAndGlyphs">14</text>
<text x="568.90" y="1060.40" font-size="9.5" fill="#222" text-anchor="middle" textLength="4.50" lengthAdjust="spacingAndGlyphs">9</text>
<text x="614.80" y="1060.40" font-size="9.5" fill="#222" text-anchor="middle" textLength="4.50" lengthAdjust="spacingAndGlyphs">1</text>
<text x="661.50" y="1060.40" font-size="9.5" fill="#222" text-anchor="middle" textLength="4.50" lengthAdjust="spacingAndGlyphs">0</text>
<line x1="411.00" y1="1065.50" x2="412.60" y2="1065.50" stroke="#333" stroke-width="1.0"/>
<text x="425.90" y="1069.10" font-size="9.5" fill="#222" text-anchor="middle" textLength="4.50" lengthAdjust="spacingAndGlyphs">7</text>
<text x="474.00" y="1069.10" font-size="9.5" fill="#222" text-anchor="middle" textLength="4.50" lengthAdjust="spacingAndGlyphs">7</text>
<text x="521.00" y="1069.10" font-size="9.5" fill="#222" text-anchor="middle" textLength="4.50" lengthAdjust="spacingAndGlyphs">3</text>
<text x="568.90" y="1069.10" font-size="9.5" fill="#222" text-anchor="middle" textLength="4.50" lengthAdjust="spacingAndGlyphs">2</text>
<text x="614.80" y="1069.10" font-size="9.5" fill="#222" text-anchor="middle" textLength="4.50" lengthAdjust="spacingAndGlyphs">1</text>
<text x="661.50" y="1069.10" font-size="9.5" fill="#222" text-anchor="middle" textLength="4.50" lengthAdjust="spacingAndGlyphs">0</text>
<line x1="411.00" y1="1074.50" x2="412.60" y2="1074.50" stroke="#333" stroke-width="1.0"/>
<text x="425.90" y="1078.00" font-size="9.5" fill="#222" text-anchor="middle" textLength="9.00" lengthAdjust="spacingAndGlyphs">49</text>
<text x="474.00" y="1078.00" font-size="9.5" fill="#222" text-anchor="middle" textLength="9.00" lengthAdjust="spacingAndGlyphs">37</text>
<text x="521.00" y="1078.00" font-size="9.5" fill="#222" text-anchor="middle" textLength="9.00" lengthAdjust="spacingAndGlyphs">28</text>
<text x="568.90" y="1078.00" font-size="9.5" fill="#222" text-anchor="middle" textLength="9.00" lengthAdjust="spacingAndGlyphs">16</text>
<text x="614.80" y="1078.00" font-size="9.5" fill="#222" text-anchor="middle" textLength="4.50" lengthAdjust="spacingAndGlyphs">4</text>
<text x="661.50" y="1078.00" font-size="9.5" fill="#222" text-anchor="middle" textLength="4.50" lengthAdjust="spacingAndGlyphs">0</text>
<line x1="425.50" y1="1080.30" x2="425.50" y2="1083.00" stroke="#333" stroke-width="1.0"/>
<text x="426.30" y="1093.80" font-size="10" fill="#333" text-anchor="middle">0</text>
<line x1="472.50" y1="1080.30" x2="472.50" y2="1083.00" stroke="#333" stroke-width="1.0"/>
<text x="476.20" y="1093.80" font-size="10" fill="#333" text-anchor="middle">250</text>
<line x1="519.50" y1="1080.30" x2="519.50" y2="1083.00" stroke="#333" stroke-width="1.0"/>
<text x="523.60" y="1093.80" font-size="10" fill="#333" text-anchor="middle">500</text>
<line x1="566.50" y1="1080.30" x2="566.50" y2="1083.00" stroke="#333" stroke-width="1.0"/>
<text x="571.60" y="1093.80" font-size="10" fill="#333" text-anchor="middle">750</text>
<line x1="613.50" y1="1080.30" x2="613.50" y2="1083.00" stroke="#333" stroke-width="1.0"/>
<text x="620.20" y="1093.80" font-size="10" fill="#333" text-anchor="middle">1000</text>
<line x1="660.50" y1="1080.30" x2="660.50" y2="1083.00" stroke="#333" stroke-width="1.0"/>
<text x="666.90" y="1093.80" font-size="10" fill="#333" text-anchor="middle">1250</text>
<text x="315.60" y="1051.50" font-size="9" fill="#F8766D" text-anchor="start" textLength="94.30" lengthAdjust="spacingAndGlyphs">Creatinine&lt;0.9mg/dL &amp; Female</text>
<text x="321.90" y="1060.60" font-size="9" fill="#7CAE00" text-anchor="start" textLength="88.00" lengthAdjust="spacingAndGlyphs">Creatinine&lt;0.9 mg/dL &amp; Male</text>
<text x="310.50" y="1068.90" font-size="9" fill="#00BFC4" text-anchor="start" textLength="99.40" lengthAdjust="spacingAndGlyphs">Creatinine&gt;=0.9 mg/dL &amp; Female</text>
<text x="318.80" y="1078.00" font-size="9" fill="#C77CFF" text-anchor="start" textLength="91.10" lengthAdjust="spacingAndGlyphs">Creatinine&gt;=0.9mg/dL &amp; Male</text>
<text x="551.90" y="1110.00" font-size="11" fill="#111" text-anchor="middle" textLength="55.70" lengthAdjust="spacingAndGlyphs">Time (Days)</text>
<text x="179.50" y="1132.30" font-size="27" fill="#000" text-anchor="start" font-weight="bold">i</text>
<line x1="235.50" y1="1115.00" x2="235.50" y2="1298.00" stroke="#333" stroke-width="1.0"/>
<line x1="235.80" y1="1297.50" x2="532.70" y2="1297.50" stroke="#333" stroke-width="1.0"/>
<line x1="232.70" y1="1123.50" x2="235.80" y2="1123.50" stroke="#333" stroke-width="1.0"/>
<text x="232.40" y="1126.80" font-size="10" fill="#333" text-anchor="end" textLength="18.30" lengthAdjust="spacingAndGlyphs">1.00</text>
<line x1="232.70" y1="1164.50" x2="235.80" y2="1164.50" stroke="#333" stroke-width="1.0"/>
<text x="232.40" y="1168.20" font-size="10" fill="#333" text-anchor="end" textLength="18.30" lengthAdjust="spacingAndGlyphs">0.75</text>
<line x1="232.70" y1="1206.50" x2="235.80" y2="1206.50" stroke="#333" stroke-width="1.0"/>
<text x="232.40" y="1209.90" font-size="10" fill="#333" text-anchor="end" textLength="18.30" lengthAdjust="spacingAndGlyphs">0.50</text>
<line x1="232.70" y1="1247.50" x2="235.80" y2="1247.50" stroke="#333" stroke-width="1.0"/>
<text x="232.40" y="1251.00" font-size="10" fill="#333" text-anchor="end" textLength="18.30" lengthAdjust="spacingAndGlyphs">0.25</text>
<line x1="232.70" y1="1288.50" x2="235.80" y2="1288.50" stroke="#333" stroke-width="1.0"/>
<text x="232.40" y="1292.50" font-size="10" fill="#333" text-anchor="end" textLength="18.30" lengthAdjust="spacingAndGlyphs">0.00</text>
<line x1="250.50" y1="1297.80" x2="250.50" y2="1300.50" stroke="#333" stroke-width="1.0"/>
<text x="249.60" y="1308.30" font-size="10" fill="#333" text-anchor="middle">0</text>
<line x1="304.50" y1="1297.80" x2="304.50" y2="1300.50" stroke="#333" stroke-width="1.0"/>
<text x="305.90" y="1308.30" font-size="10" fill="#333" text-anchor="middle">250</text>
<line x1="358.50" y1="1297.80" x2="358.50" y2="1300.50" stroke="#333" stroke-width="1.0"/>
<text x="360.90" y="1308.30" font-size="10" fill="#333" text-anchor="middle">500</text>
<line x1="412.50" y1="1297.80" x2="412.50" y2="1300.50" stroke="#333" stroke-width="1.0"/>
<text x="415.50" y="1308.30" font-size="10" fill="#333" text-anchor="middle">750</text>
<line x1="466.50" y1="1297.80" x2="466.50" y2="1300.50" stroke="#333" stroke-width="1.0"/>
<text x="470.00" y="1308.30" font-size="10" fill="#333" text-anchor="middle">1000</text>
<line x1="520.50" y1="1297.80" x2="520.50" y2="1300.50" stroke="#333" stroke-width="1.0"/>
<text x="525.60" y="1308.30" font-size="10" fill="#333" text-anchor="middle">1250</text>
<text x="197.00" y="1212.40" font-size="12" fill="#111" text-anchor="middle" textLength="99.70" lengthAdjust="spacingAndGlyphs" transform="rotate(-90 197.00 1212.40)">Survival probability</text>
<path d="M249.20,1123.60 L257.40,1123.60 L260.40,1127.30 L262.50,1130.90 L294.20,1130.90 L294.20,1134.80 L298.20,1134.80 L298.20,1139.90 L319.70,1139.90 L319.70,1143.60 L325.80,1143.60 L325.80,1148.20 L352.00,1148.20 L352.00,1153.60 L374.00,1153.60 L374.00,1159.70 L397.70,1159.70 L397.70,1168.40 L469.60,1168.40" fill="none" stroke="#00BFC4" stroke-width="1.9" stroke-linejoin="round"/>
<path d="M249.20,1123.60 L254.30,1123.60 L256.40,1127.30 L260.40,1130.30 L264.50,1136.50 L272.70,1138.50 L273.70,1142.00 L283.90,1142.00 L283.90,1146.10 L293.50,1146.10 L293.50,1149.70 L314.60,1149.70 L314.60,1152.80 L317.70,1152.80 L317.70,1158.90 L319.70,1158.90 L319.70,1163.00 L323.80,1163.00 L323.80,1165.70 L332.00,1165.70 L332.00,1169.20 L338.10,1169.20 L338.10,1176.30 L341.20,1176.30 L341.20,1186.50 L347.30,1186.50 L347.30,1191.00 L366.70,1191.00 L366.70,1196.70 L509.60,1196.70" fill="none" stroke="#00BA38" stroke-width="1.9" stroke-linejoin="round"/>
<path d="M249.20,1123.60 L252.70,1123.60 L252.70,1139.90 L259.40,1139.90 L259.40,1156.90 L265.50,1156.90 L265.50,1173.20 L299.30,1173.20 L299.30,1190.00 L373.90,1190.00 L373.90,1209.60 L508.70,1209.60" fill="none" stroke="#B79F00" stroke-width="1.9" stroke-linejoin="round"/>
<path d="M249.20,1123.60 L258.40,1123.60 L258.40,1138.50 L272.30,1138.50 L272.30,1153.40 L279.90,1153.40 L279.90,1168.50 L281.90,1168.50 L281.90,1184.10 L289.50,1184.10 L289.50,1198.80 L320.30,1198.80 L320.30,1214.00 L386.90,1214.00 L386.90,1232.60 L450.30,1232.60" fill="none" stroke="#619CFF" stroke-width="1.9" stroke-linejoin="round"/>
<path d="M249.20,1123.60 L266.60,1123.60 L266.60,1130.30 L268.60,1130.30 L268.60,1136.50 L279.90,1136.50 L279.90,1143.60 L280.90,1143.60 L280.90,1150.80 L282.50,1150.80 L282.50,1156.90 L283.90,1156.90 L283.90,1169.80 L289.00,1169.80 L289.00,1176.30 L305.80,1176.30 L305.80,1183.10 L309.10,1183.10 L309.10,1196.70 L322.80,1196.70 L322.80,1203.40 L364.60,1203.40 L364.60,1210.50 L369.40,1210.50 L369.40,1218.90 L379.00,1218.90 L379.00,1226.80 L426.40,1226.80 L426.40,1239.00 L458.50,1239.00 L458.50,1264.20 L463.70,1264.20 L463.70,1288.70" fill="none" stroke="#F8766D" stroke-width="1.9" stroke-linejoin="round"/>
<path d="M249.20,1123.60 L288.60,1123.60 L288.60,1164.50 L349.30,1164.50 L349.30,1206.50 L519.80,1206.50" fill="none" stroke="#F564E3" stroke-width="1.9" stroke-linejoin="round"/>
<line x1="335.80" y1="1146.70" x2="335.80" y2="1149.70" stroke="#00BFC4" stroke-width="0.8"/>
<line x1="340.20" y1="1146.70" x2="340.20" y2="1149.70" stroke="#00BFC4" stroke-width="0.8"/>
<line x1="343.10" y1="1146.70" x2="343.10" y2="1149.70" stroke="#00BFC4" stroke-width="0.8"/>
<line x1="346.00" y1="1146.70" x2="346.00" y2="1149.70" stroke="#00BFC4" stroke-width="0.8"/>
<line x1="349.00" y1="1146.70" x2="349.00" y2="1149.70" stroke="#00BFC4" stroke-width="0.8"/>
<line x1="353.40" y1="1152.10" x2="353.40" y2="1155.10" stroke="#00BFC4" stroke-width="0.8"/>
<line x1="357.70" y1="1152.10" x2="357.70" y2="1155.10" stroke="#00BFC4" stroke-width="0.8"/>
<line x1="360.70" y1="1152.10" x2="360.70" y2="1155.10" stroke="#00BFC4" stroke-width="0.8"/>
<line x1="363.60" y1="1152.10" x2="363.60" y2="1155.10" stroke="#00BFC4" stroke-width="0.8"/>
<line x1="366.50" y1="1152.10" x2="366.50" y2="1155.10" stroke="#00BFC4" stroke-width="0.8"/>
<line x1="378.20" y1="1158.20" x2="378.20" y2="1161.20" stroke="#00BFC4" stroke-width="0.8"/>
<line x1="382.60" y1="1158.20" x2="382.60" y2="1161.20" stroke="#00BFC4" stroke-width="0.8"/>
<line x1="385.50" y1="1158.20" x2="385.50" y2="1161.20" stroke="#00BFC4" stroke-width="0.8"/>
<line x1="388.40" y1="1158.20" x2="388.40" y2="1161.20" stroke="#00BFC4" stroke-width="0.8"/>
<line x1="407.40" y1="1166.90" x2="407.40" y2="1169.90" stroke="#00BFC4" stroke-width="0.8"/>
<line x1="414.70" y1="1166.90" x2="414.70" y2="1169.90" stroke="#00BFC4" stroke-width="0.8"/>
<line x1="433.60" y1="1166.90" x2="433.60" y2="1169.90" stroke="#00BFC4" stroke-width="0.8"/>
<line x1="441.00" y1="1166.90" x2="441.00" y2="1169.90" stroke="#00BFC4" stroke-width="0.8"/>
<line x1="446.80" y1="1166.90" x2="446.80" y2="1169.90" stroke="#00BFC4" stroke-width="0.8"/>
<line x1="452.60" y1="1166.90" x2="452.60" y2="1169.90" stroke="#00BFC4" stroke-width="0.8"/>
<line x1="455.50" y1="1166.90" x2="455.50" y2="1169.90" stroke="#00BFC4" stroke-width="0.8"/>
<line x1="458.50" y1="1166.90" x2="458.50" y2="1169.90" stroke="#00BFC4" stroke-width="0.8"/>
<line x1="462.80" y1="1166.90" x2="462.80" y2="1169.90" stroke="#00BFC4" stroke-width="0.8"/>
<line x1="469.60" y1="1166.90" x2="469.60" y2="1169.90" stroke="#00BFC4" stroke-width="0.8"/>
<line x1="378.20" y1="1195.20" x2="378.20" y2="1198.20" stroke="#00BA38" stroke-width="0.8"/>
<line x1="391.30" y1="1195.20" x2="391.30" y2="1198.20" stroke="#00BA38" stroke-width="0.8"/>
<line x1="404.50" y1="1195.20" x2="404.50" y2="1198.20" stroke="#00BA38" stroke-width="0.8"/>
<line x1="416.10" y1="1195.20" x2="416.10" y2="1198.20" stroke="#00BA38" stroke-width="0.8"/>
<line x1="419.10" y1="1195.20" x2="419.10" y2="1198.20" stroke="#00BA38" stroke-width="0.8"/>
<line x1="424.90" y1="1195.20" x2="424.90" y2="1198.20" stroke="#00BA38" stroke-width="0.8"/>
<line x1="435.10" y1="1195.20" x2="435.10" y2="1198.20" stroke="#00BA38" stroke-width="0.8"/>
<line x1="443.90" y1="1195.20" x2="443.90" y2="1198.20" stroke="#00BA38" stroke-width="0.8"/>
<line x1="446.80" y1="1195.20" x2="446.80" y2="1198.20" stroke="#00BA38" stroke-width="0.8"/>
<line x1="451.20" y1="1195.20" x2="451.20" y2="1198.20" stroke="#00BA38" stroke-width="0.8"/>
<line x1="462.80" y1="1195.20" x2="462.80" y2="1198.20" stroke="#00BA38" stroke-width="0.8"/>
<line x1="509.60" y1="1195.20" x2="509.60" y2="1198.20" stroke="#00BA38" stroke-width="0.8"/>
<line x1="414.70" y1="1208.10" x2="414.70" y2="1211.10" stroke="#B79F00" stroke-width="0.8"/>
<line x1="470.10" y1="1208.10" x2="470.10" y2="1211.10" stroke="#B79F00" stroke-width="0.8"/>
<line x1="508.70" y1="1208.10" x2="508.70" y2="1211.10" stroke="#B79F00" stroke-width="0.8"/>
<line x1="487.70" y1="1205.00" x2="487.70" y2="1208.00" stroke="#F564E3" stroke-width="0.8"/>
<line x1="519.80" y1="1205.00" x2="519.80" y2="1208.00" stroke="#F564E3" stroke-width="0.8"/>
<line x1="340.20" y1="1201.90" x2="340.20" y2="1204.90" stroke="#F8766D" stroke-width="0.8"/>
<line x1="400.00" y1="1225.30" x2="400.00" y2="1228.30" stroke="#F8766D" stroke-width="0.8"/>
<line x1="417.60" y1="1225.30" x2="417.60" y2="1228.30" stroke="#F8766D" stroke-width="0.8"/>
<line x1="439.50" y1="1237.50" x2="439.50" y2="1240.50" stroke="#F8766D" stroke-width="0.8"/>
<line x1="446.80" y1="1237.50" x2="446.80" y2="1240.50" stroke="#F8766D" stroke-width="0.8"/>
<line x1="403.00" y1="1231.10" x2="403.00" y2="1234.10" stroke="#619CFF" stroke-width="0.8"/>
<line x1="420.50" y1="1231.10" x2="420.50" y2="1234.10" stroke="#619CFF" stroke-width="0.8"/>
<line x1="450.30" y1="1231.10" x2="450.30" y2="1234.10" stroke="#619CFF" stroke-width="0.8"/>
<text x="235.70" y="1319.50" font-size="10" fill="#111" text-anchor="start" textLength="57.50" lengthAdjust="spacingAndGlyphs">Number at risk</text>
<line x1="235.50" y1="1323.00" x2="235.50" y2="1369.50" stroke="#333" stroke-width="1.0"/>
<line x1="235.70" y1="1369.50" x2="532.70" y2="1369.50" stroke="#333" stroke-width="1.0"/>
<line x1="234.20" y1="1327.50" x2="235.70" y2="1327.50" stroke="#333" stroke-width="1.0"/>
<text x="249.10" y="1330.70" font-size="8.5" fill="#222" text-anchor="middle" textLength="7.80" lengthAdjust="spacingAndGlyphs">25</text>
<text x="303.10" y="1330.70" font-size="8.5" fill="#222" text-anchor="middle" textLength="7.80" lengthAdjust="spacingAndGlyphs">17</text>
<text x="358.30" y="1330.70" font-size="8.5" fill="#222" text-anchor="middle" textLength="7.80" lengthAdjust="spacingAndGlyphs">11</text>
<text x="412.30" y="1330.70" font-size="8.5" fill="#222" text-anchor="middle" textLength="3.90" lengthAdjust="spacingAndGlyphs">7</text>
<text x="466.80" y="1330.70" font-size="8.5" fill="#222" text-anchor="middle" textLength="3.90" lengthAdjust="spacingAndGlyphs">0</text>
<text x="521.40" y="1330.70" font-size="8.5" fill="#222" text-anchor="middle" textLength="3.90" lengthAdjust="spacingAndGlyphs">0</text>
<line x1="234.20" y1="1335.50" x2="235.70" y2="1335.50" stroke="#333" stroke-width="1.0"/>
<text x="249.10" y="1338.00" font-size="8.5" fill="#222" text-anchor="middle" textLength="7.80" lengthAdjust="spacingAndGlyphs">10</text>
<text x="303.10" y="1338.00" font-size="8.5" fill="#222" text-anchor="middle" textLength="3.90" lengthAdjust="spacingAndGlyphs">6</text>
<text x="358.30" y="1338.00" font-size="8.5" fill="#222" text-anchor="middle" textLength="3.90" lengthAdjust="spacingAndGlyphs">5</text>
<text x="412.30" y="1338.00" font-size="8.5" fill="#222" text-anchor="middle" textLength="3.90" lengthAdjust="spacingAndGlyphs">3</text>
<text x="466.80" y="1338.00" font-size="8.5" fill="#222" text-anchor="middle" textLength="3.90" lengthAdjust="spacingAndGlyphs">2</text>
<text x="521.40" y="1338.00" font-size="8.5" fill="#222" text-anchor="middle" textLength="3.90" lengthAdjust="spacingAndGlyphs">0</text>
<line x1="234.20" y1="1342.50" x2="235.70" y2="1342.50" stroke="#333" stroke-width="1.0"/>
<text x="249.10" y="1345.40" font-size="8.5" fill="#222" text-anchor="middle" textLength="7.80" lengthAdjust="spacingAndGlyphs">44</text>
<text x="303.10" y="1345.40" font-size="8.5" fill="#222" text-anchor="middle" textLength="7.80" lengthAdjust="spacingAndGlyphs">37</text>
<text x="358.30" y="1345.40" font-size="8.5" fill="#222" text-anchor="middle" textLength="7.80" lengthAdjust="spacingAndGlyphs">21</text>
<text x="412.30" y="1345.40" font-size="8.5" fill="#222" text-anchor="middle" textLength="7.80" lengthAdjust="spacingAndGlyphs">13</text>
<text x="466.80" y="1345.40" font-size="8.5" fill="#222" text-anchor="middle" textLength="3.90" lengthAdjust="spacingAndGlyphs">1</text>
<text x="521.40" y="1345.40" font-size="8.5" fill="#222" text-anchor="middle" textLength="3.90" lengthAdjust="spacingAndGlyphs">0</text>
<line x1="234.20" y1="1350.50" x2="235.70" y2="1350.50" stroke="#333" stroke-width="1.0"/>
<text x="249.10" y="1353.10" font-size="8.5" fill="#222" text-anchor="middle" textLength="7.80" lengthAdjust="spacingAndGlyphs">42</text>
<text x="303.10" y="1353.10" font-size="8.5" fill="#222" text-anchor="middle" textLength="7.80" lengthAdjust="spacingAndGlyphs">35</text>
<text x="358.30" y="1353.10" font-size="8.5" fill="#222" text-anchor="middle" textLength="7.80" lengthAdjust="spacingAndGlyphs">24</text>
<text x="412.30" y="1353.10" font-size="8.5" fill="#222" text-anchor="middle" textLength="7.80" lengthAdjust="spacingAndGlyphs">13</text>
<text x="466.80" y="1353.10" font-size="8.5" fill="#222" text-anchor="middle" textLength="3.90" lengthAdjust="spacingAndGlyphs">1</text>
<text x="521.40" y="1353.10" font-size="8.5" fill="#222" text-anchor="middle" textLength="3.90" lengthAdjust="spacingAndGlyphs">0</text>
<line x1="234.20" y1="1357.50" x2="235.70" y2="1357.50" stroke="#333" stroke-width="1.0"/>
<text x="249.10" y="1360.60" font-size="8.5" fill="#222" text-anchor="middle" textLength="7.80" lengthAdjust="spacingAndGlyphs">11</text>
<text x="303.10" y="1360.60" font-size="8.5" fill="#222" text-anchor="middle" textLength="3.90" lengthAdjust="spacingAndGlyphs">6</text>
<text x="358.30" y="1360.60" font-size="8.5" fill="#222" text-anchor="middle" textLength="3.90" lengthAdjust="spacingAndGlyphs">5</text>
<text x="412.30" y="1360.60" font-size="8.5" fill="#222" text-anchor="middle" textLength="3.90" lengthAdjust="spacingAndGlyphs">2</text>
<text x="466.80" y="1360.60" font-size="8.5" fill="#222" text-anchor="middle" textLength="3.90" lengthAdjust="spacingAndGlyphs">0</text>
<text x="521.40" y="1360.60" font-size="8.5" fill="#222" text-anchor="middle" textLength="3.90" lengthAdjust="spacingAndGlyphs">0</text>
<line x1="234.20" y1="1365.50" x2="235.70" y2="1365.50" stroke="#333" stroke-width="1.0"/>
<text x="249.10" y="1368.30" font-size="8.5" fill="#222" text-anchor="middle" textLength="3.90" lengthAdjust="spacingAndGlyphs">4</text>
<text x="303.10" y="1368.30" font-size="8.5" fill="#222" text-anchor="middle" textLength="3.90" lengthAdjust="spacingAndGlyphs">3</text>
<text x="358.30" y="1368.30" font-size="8.5" fill="#222" text-anchor="middle" textLength="3.90" lengthAdjust="spacingAndGlyphs">2</text>
<text x="412.30" y="1368.30" font-size="8.5" fill="#222" text-anchor="middle" textLength="3.90" lengthAdjust="spacingAndGlyphs">2</text>
<text x="466.80" y="1368.30" font-size="8.5" fill="#222" text-anchor="middle" textLength="3.90" lengthAdjust="spacingAndGlyphs">2</text>
<text x="521.40" y="1368.30" font-size="8.5" fill="#222" text-anchor="middle" textLength="3.90" lengthAdjust="spacingAndGlyphs">0</text>
<line x1="250.50" y1="1369.30" x2="250.50" y2="1372.00" stroke="#333" stroke-width="1.0"/>
<text x="249.60" y="1380.20" font-size="10" fill="#333" text-anchor="middle">0</text>
<line x1="304.50" y1="1369.30" x2="304.50" y2="1372.00" stroke="#333" stroke-width="1.0"/>
<text x="305.90" y="1380.20" font-size="10" fill="#333" text-anchor="middle">250</text>
<line x1="358.50" y1="1369.30" x2="358.50" y2="1372.00" stroke="#333" stroke-width="1.0"/>
<text x="360.90" y="1380.20" font-size="10" fill="#333" text-anchor="middle">500</text>
<line x1="412.50" y1="1369.30" x2="412.50" y2="1372.00" stroke="#333" stroke-width="1.0"/>
<text x="415.50" y="1380.20" font-size="10" fill="#333" text-anchor="middle">750</text>
<line x1="466.50" y1="1369.30" x2="466.50" y2="1372.00" stroke="#333" stroke-width="1.0"/>
<text x="470.00" y="1380.20" font-size="10" fill="#333" text-anchor="middle">1000</text>
<line x1="520.50" y1="1369.30" x2="520.50" y2="1372.00" stroke="#333" stroke-width="1.0"/>
<text x="525.60" y="1380.20" font-size="10" fill="#333" text-anchor="middle">1250</text>
<text x="102.60" y="1330.60" font-size="8.5" fill="#F8766D" text-anchor="start" textLength="128.60" lengthAdjust="spacingAndGlyphs">Normal Weight &amp; Creatinine &lt;0.9mg/dL</text>
<text x="100.70" y="1338.50" font-size="8.5" fill="#B79F00" text-anchor="start" textLength="130.50" lengthAdjust="spacingAndGlyphs">Normal Weight &amp; Creatinine&gt;=0.9mg/dL</text>
<text x="71.80" y="1345.60" font-size="8.5" fill="#00BA38" text-anchor="start" textLength="159.40" lengthAdjust="spacingAndGlyphs">Overweight/Class I Obese &amp; Creatinine&lt;0.9mg/dL</text>
<text x="67.90" y="1353.50" font-size="8.5" fill="#00BFC4" text-anchor="start" textLength="163.30" lengthAdjust="spacingAndGlyphs">Overweight/Class I Obese &amp; Creatinine&gt;=0.9mg/dL</text>
<text x="103.40" y="1360.80" font-size="8.5" fill="#619CFF" text-anchor="start" textLength="127.80" lengthAdjust="spacingAndGlyphs">Class II/III Obese &amp; Creatinine&lt;0.9mg/dL</text>
<text x="98.90" y="1368.50" font-size="8.5" fill="#F564E3" text-anchor="start" textLength="132.30" lengthAdjust="spacingAndGlyphs">Class II/III Obese &amp; Creatinine&gt;=0.9mg/dL</text>
<text x="388.50" y="1392.30" font-size="11" fill="#111" text-anchor="middle" textLength="55.20" lengthAdjust="spacingAndGlyphs">Time (Days)</text>
</svg></body></html>
